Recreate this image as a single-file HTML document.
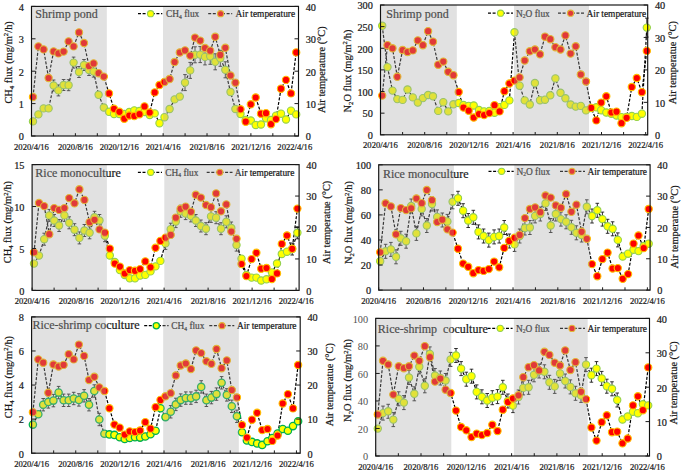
<!DOCTYPE html>
<html><head><meta charset="utf-8"><style>
html,body{margin:0;padding:0;background:#fff;width:685px;height:474px;overflow:hidden}
body{position:relative;font-family:"Liberation Serif",serif}
</style></head><body>
<svg width="685" height="474" viewBox="0 0 685 474" style="position:absolute;left:0;top:0">
<rect width="685" height="474" fill="#fff"/>
<style>text{stroke:#1a1a1a;stroke-width:0.22px}</style>
<g fill="none" stroke="#000" stroke-width="1.2" stroke-dasharray="3,1.6">
<polyline points="33,97 38.4,46.4 43.6,49.4 48.6,78 53.6,51.4 58.4,53.4 63.6,51.6 68.6,41.4 73.6,46.4 79,32.4 84,43 89,66 93.6,63.4 98.6,73.2 103.8,76.6 109,93.4 114,108.8 119.4,111.8 124.3,118.7 129.3,115.5 134.3,116 139.5,114.2 144.5,106.4 149.7,112.5 154.7,92.4 159.5,85 164.5,82 169.6,79 174.6,62 179.8,52.5 185,50.4 190.2,55.6 195,37.6 200.2,40.6 205,48 210.2,50.7 215.2,36.8 220.3,54.9 225.3,47.8 230.5,75.5 235.4,82.7 240.5,109.3 245.7,121.7 250.8,104.3 255.7,97.5 261,113.7 266,113.2 271,124.2 276,119.1 281,88.7 286,79.9 291,93.4 296.2,52.4"/>
<polyline points="33,121.4 38.4,114.4 43.6,108.4 48.6,108.4 53.6,85.5 58.4,90.4 63.6,85 68.6,85.2 73.6,62.6 79,72 84,65 89,70 93.6,71.6 98.6,94.8 103.8,107.5 109,111.8 114,114 119.4,114 124.3,114 129.3,112 134.3,110.4 139.5,111 144.5,112 149.7,115 154.7,113.4 159.5,123.2 164.5,117.2 169.6,109 174.6,99.4 179.8,96.6 185,82.6 190.2,70.4 195,54.8 200.2,54.6 205,56.9 210.2,56.3 215.2,61.8 220.3,58.3 225.3,69.8 230.5,92 235.4,109 240.5,114 245.7,120 250.8,120.5 255.7,125 261,124.5 266,118.3 271,120 276,115.7 281,113.7 286,119.5 291,110.7 296.2,114.4"/>
</g>
<g stroke="#1a1a1a" stroke-width="0.9" fill="none">
<path d="M53.6,80V91M51.8,80H55.4M51.8,91H55.4"/>
<path d="M58.4,84.9V95.9M56.6,84.9H60.2M56.6,95.9H60.2"/>
<path d="M63.6,79.5V90.5M61.8,79.5H65.4M61.8,90.5H65.4"/>
<path d="M68.6,79.7V90.7M66.8,79.7H70.4M66.8,90.7H70.4"/>
<path d="M73.6,57.1V68.1M71.8,57.1H75.4M71.8,68.1H75.4"/>
<path d="M79,66.5V77.5M77.2,66.5H80.8M77.2,77.5H80.8"/>
<path d="M84,59.5V70.5M82.2,59.5H85.8M82.2,70.5H85.8"/>
<path d="M89,64.5V75.5M87.2,64.5H90.8M87.2,75.5H90.8"/>
<path d="M93.6,66.1V77.1M91.8,66.1H95.4M91.8,77.1H95.4"/>
<path d="M185,74.6V90.6M183.2,74.6H186.8M183.2,90.6H186.8"/>
<path d="M190.2,62.4V78.4M188.4,62.4H192M188.4,78.4H192"/>
<path d="M195,46.8V62.8M193.2,46.8H196.8M193.2,62.8H196.8"/>
<path d="M200.2,46.6V62.6M198.4,46.6H202M198.4,62.6H202"/>
<path d="M205,48.9V64.9M203.2,48.9H206.8M203.2,64.9H206.8"/>
<path d="M210.2,48.3V64.3M208.4,48.3H212M208.4,64.3H212"/>
<path d="M215.2,53.8V69.8M213.4,53.8H217M213.4,69.8H217"/>
<path d="M220.3,50.3V66.3M218.5,50.3H222.1M218.5,66.3H222.1"/>
<path d="M225.3,61.8V77.8M223.5,61.8H227.1M223.5,77.8H227.1"/>
</g>
<g fill="#ffff00" stroke="#92d050" stroke-width="1.1">
<circle cx="33" cy="121.4" r="3.65"/>
<circle cx="38.4" cy="114.4" r="3.65"/>
<circle cx="43.6" cy="108.4" r="3.65"/>
<circle cx="48.6" cy="108.4" r="3.65"/>
<circle cx="53.6" cy="85.5" r="3.65"/>
<circle cx="58.4" cy="90.4" r="3.65"/>
<circle cx="63.6" cy="85" r="3.65"/>
<circle cx="68.6" cy="85.2" r="3.65"/>
<circle cx="73.6" cy="62.6" r="3.65"/>
<circle cx="79" cy="72" r="3.65"/>
<circle cx="84" cy="65" r="3.65"/>
<circle cx="89" cy="70" r="3.65"/>
<circle cx="93.6" cy="71.6" r="3.65"/>
<circle cx="98.6" cy="94.8" r="3.65"/>
<circle cx="103.8" cy="107.5" r="3.65"/>
<circle cx="109" cy="111.8" r="3.65"/>
<circle cx="114" cy="114" r="3.65"/>
<circle cx="119.4" cy="114" r="3.65"/>
<circle cx="124.3" cy="114" r="3.65"/>
<circle cx="129.3" cy="112" r="3.65"/>
<circle cx="134.3" cy="110.4" r="3.65"/>
<circle cx="139.5" cy="111" r="3.65"/>
<circle cx="144.5" cy="112" r="3.65"/>
<circle cx="149.7" cy="115" r="3.65"/>
<circle cx="154.7" cy="113.4" r="3.65"/>
<circle cx="159.5" cy="123.2" r="3.65"/>
<circle cx="164.5" cy="117.2" r="3.65"/>
<circle cx="169.6" cy="109" r="3.65"/>
<circle cx="174.6" cy="99.4" r="3.65"/>
<circle cx="179.8" cy="96.6" r="3.65"/>
<circle cx="185" cy="82.6" r="3.65"/>
<circle cx="190.2" cy="70.4" r="3.65"/>
<circle cx="195" cy="54.8" r="3.65"/>
<circle cx="200.2" cy="54.6" r="3.65"/>
<circle cx="205" cy="56.9" r="3.65"/>
<circle cx="210.2" cy="56.3" r="3.65"/>
<circle cx="215.2" cy="61.8" r="3.65"/>
<circle cx="220.3" cy="58.3" r="3.65"/>
<circle cx="225.3" cy="69.8" r="3.65"/>
<circle cx="230.5" cy="92" r="3.65"/>
<circle cx="235.4" cy="109" r="3.65"/>
<circle cx="240.5" cy="114" r="3.65"/>
<circle cx="245.7" cy="120" r="3.65"/>
<circle cx="250.8" cy="120.5" r="3.65"/>
<circle cx="255.7" cy="125" r="3.65"/>
<circle cx="261" cy="124.5" r="3.65"/>
<circle cx="266" cy="118.3" r="3.65"/>
<circle cx="271" cy="120" r="3.65"/>
<circle cx="276" cy="115.7" r="3.65"/>
<circle cx="281" cy="113.7" r="3.65"/>
<circle cx="286" cy="119.5" r="3.65"/>
<circle cx="291" cy="110.7" r="3.65"/>
<circle cx="296.2" cy="114.4" r="3.65"/>
</g>
<g fill="#ff0000" stroke="#ffc000" stroke-width="1.1">
<circle cx="33" cy="97" r="3.65"/>
<circle cx="38.4" cy="46.4" r="3.65"/>
<circle cx="43.6" cy="49.4" r="3.65"/>
<circle cx="48.6" cy="78" r="3.65"/>
<circle cx="53.6" cy="51.4" r="3.65"/>
<circle cx="58.4" cy="53.4" r="3.65"/>
<circle cx="63.6" cy="51.6" r="3.65"/>
<circle cx="68.6" cy="41.4" r="3.65"/>
<circle cx="73.6" cy="46.4" r="3.65"/>
<circle cx="79" cy="32.4" r="3.65"/>
<circle cx="84" cy="43" r="3.65"/>
<circle cx="89" cy="66" r="3.65"/>
<circle cx="93.6" cy="63.4" r="3.65"/>
<circle cx="98.6" cy="73.2" r="3.65"/>
<circle cx="103.8" cy="76.6" r="3.65"/>
<circle cx="109" cy="93.4" r="3.65"/>
<circle cx="114" cy="108.8" r="3.65"/>
<circle cx="119.4" cy="111.8" r="3.65"/>
<circle cx="124.3" cy="118.7" r="3.65"/>
<circle cx="129.3" cy="115.5" r="3.65"/>
<circle cx="134.3" cy="116" r="3.65"/>
<circle cx="139.5" cy="114.2" r="3.65"/>
<circle cx="144.5" cy="106.4" r="3.65"/>
<circle cx="149.7" cy="112.5" r="3.65"/>
<circle cx="154.7" cy="92.4" r="3.65"/>
<circle cx="159.5" cy="85" r="3.65"/>
<circle cx="164.5" cy="82" r="3.65"/>
<circle cx="169.6" cy="79" r="3.65"/>
<circle cx="174.6" cy="62" r="3.65"/>
<circle cx="179.8" cy="52.5" r="3.65"/>
<circle cx="185" cy="50.4" r="3.65"/>
<circle cx="190.2" cy="55.6" r="3.65"/>
<circle cx="195" cy="37.6" r="3.65"/>
<circle cx="200.2" cy="40.6" r="3.65"/>
<circle cx="205" cy="48" r="3.65"/>
<circle cx="210.2" cy="50.7" r="3.65"/>
<circle cx="215.2" cy="36.8" r="3.65"/>
<circle cx="220.3" cy="54.9" r="3.65"/>
<circle cx="225.3" cy="47.8" r="3.65"/>
<circle cx="230.5" cy="75.5" r="3.65"/>
<circle cx="235.4" cy="82.7" r="3.65"/>
<circle cx="240.5" cy="109.3" r="3.65"/>
<circle cx="245.7" cy="121.7" r="3.65"/>
<circle cx="250.8" cy="104.3" r="3.65"/>
<circle cx="255.7" cy="97.5" r="3.65"/>
<circle cx="261" cy="113.7" r="3.65"/>
<circle cx="266" cy="113.2" r="3.65"/>
<circle cx="271" cy="124.2" r="3.65"/>
<circle cx="276" cy="119.1" r="3.65"/>
<circle cx="281" cy="88.7" r="3.65"/>
<circle cx="286" cy="79.9" r="3.65"/>
<circle cx="291" cy="93.4" r="3.65"/>
<circle cx="296.2" cy="52.4" r="3.65"/>
</g>
<text x="35.3" y="17.6" font-family="'Liberation Serif', serif" font-size="12" fill="#1a1a1a" xml:space="preserve">Shrimp pond</text>
<line x1="138" y1="13.7" x2="162.3" y2="13.7" stroke="#000" stroke-width="1.2" stroke-dasharray="3,1.6"/>
<line x1="208.2" y1="13.7" x2="232.2" y2="13.7" stroke="#000" stroke-width="1.2" stroke-dasharray="3,1.6"/>
<circle cx="150.6" cy="13.7" r="3.1" fill="#ffff00" stroke="#92d050" stroke-width="1.1"/>
<circle cx="220.6" cy="13.7" r="3.1" fill="#ff0000" stroke="#ffc000" stroke-width="1.1"/>
<text x="166" y="17" font-family="'Liberation Serif', serif" font-size="9.4" fill="#1a1a1a">CH<tspan font-size="5.64" dy="1.5">4</tspan><tspan dy="-1.5"> flux</tspan></text>
<text x="235.5" y="17" font-family="'Liberation Serif', serif" font-size="9.4" fill="#1a1a1a">Air temperature</text>
<rect x="31.5" y="6.4" width="75.3" height="129.6" fill="#a8a8a8" fill-opacity="0.34"/>
<rect x="163" y="6.4" width="75.8" height="129.6" fill="#a8a8a8" fill-opacity="0.34"/>
<rect x="31.5" y="6.4" width="267" height="129.6" fill="none" stroke="#111" stroke-width="1.15"/>
<line x1="31.5" y1="136" x2="35.5" y2="136" stroke="#1a1a1a" stroke-width="1"/>
<text x="23.9" y="140.3" text-anchor="end" font-family="'Liberation Serif', serif" font-size="10.3" fill="#1a1a1a">0</text>
<line x1="31.5" y1="103.6" x2="35.5" y2="103.6" stroke="#1a1a1a" stroke-width="1"/>
<text x="23.9" y="107.9" text-anchor="end" font-family="'Liberation Serif', serif" font-size="10.3" fill="#1a1a1a">1</text>
<line x1="31.5" y1="71.2" x2="35.5" y2="71.2" stroke="#1a1a1a" stroke-width="1"/>
<text x="23.9" y="75.5" text-anchor="end" font-family="'Liberation Serif', serif" font-size="10.3" fill="#1a1a1a">2</text>
<line x1="31.5" y1="38.8" x2="35.5" y2="38.8" stroke="#1a1a1a" stroke-width="1"/>
<text x="23.9" y="43.1" text-anchor="end" font-family="'Liberation Serif', serif" font-size="10.3" fill="#1a1a1a">3</text>
<line x1="31.5" y1="6.4" x2="35.5" y2="6.4" stroke="#1a1a1a" stroke-width="1"/>
<text x="23.9" y="10.7" text-anchor="end" font-family="'Liberation Serif', serif" font-size="10.3" fill="#1a1a1a">4</text>
<line x1="294.5" y1="136" x2="298.5" y2="136" stroke="#1a1a1a" stroke-width="1"/>
<text x="305.7" y="140.3" font-family="'Liberation Serif', serif" font-size="10.3" fill="#1a1a1a">0</text>
<line x1="294.5" y1="103.6" x2="298.5" y2="103.6" stroke="#1a1a1a" stroke-width="1"/>
<text x="305.7" y="107.9" font-family="'Liberation Serif', serif" font-size="10.3" fill="#1a1a1a">10</text>
<line x1="294.5" y1="71.2" x2="298.5" y2="71.2" stroke="#1a1a1a" stroke-width="1"/>
<text x="305.7" y="75.5" font-family="'Liberation Serif', serif" font-size="10.3" fill="#1a1a1a">20</text>
<line x1="294.5" y1="38.8" x2="298.5" y2="38.8" stroke="#1a1a1a" stroke-width="1"/>
<text x="305.7" y="43.1" font-family="'Liberation Serif', serif" font-size="10.3" fill="#1a1a1a">30</text>
<line x1="294.5" y1="6.4" x2="298.5" y2="6.4" stroke="#1a1a1a" stroke-width="1"/>
<text x="305.7" y="10.7" font-family="'Liberation Serif', serif" font-size="10.3" fill="#1a1a1a">40</text>
<line x1="31.5" y1="136" x2="31.5" y2="133.2" stroke="#1a1a1a" stroke-width="1"/>
<text x="31.5" y="149.6" text-anchor="middle" font-family="'Liberation Serif', serif" font-size="8.6" fill="#1a1a1a">2020/4/16</text>
<line x1="53.44" y1="136" x2="53.44" y2="133.2" stroke="#1a1a1a" stroke-width="1"/>
<line x1="75.38" y1="136" x2="75.38" y2="133.2" stroke="#1a1a1a" stroke-width="1"/>
<text x="75.38" y="149.6" text-anchor="middle" font-family="'Liberation Serif', serif" font-size="8.6" fill="#1a1a1a">2020/8/16</text>
<line x1="97.32" y1="136" x2="97.32" y2="133.2" stroke="#1a1a1a" stroke-width="1"/>
<line x1="119.26" y1="136" x2="119.26" y2="133.2" stroke="#1a1a1a" stroke-width="1"/>
<text x="119.26" y="149.6" text-anchor="middle" font-family="'Liberation Serif', serif" font-size="8.6" fill="#1a1a1a">2020/12/16</text>
<line x1="141.2" y1="136" x2="141.2" y2="133.2" stroke="#1a1a1a" stroke-width="1"/>
<line x1="163.14" y1="136" x2="163.14" y2="133.2" stroke="#1a1a1a" stroke-width="1"/>
<text x="163.14" y="149.6" text-anchor="middle" font-family="'Liberation Serif', serif" font-size="8.6" fill="#1a1a1a">2021/4/16</text>
<line x1="185.08" y1="136" x2="185.08" y2="133.2" stroke="#1a1a1a" stroke-width="1"/>
<line x1="207.02" y1="136" x2="207.02" y2="133.2" stroke="#1a1a1a" stroke-width="1"/>
<text x="207.02" y="149.6" text-anchor="middle" font-family="'Liberation Serif', serif" font-size="8.6" fill="#1a1a1a">2021/8/16</text>
<line x1="228.96" y1="136" x2="228.96" y2="133.2" stroke="#1a1a1a" stroke-width="1"/>
<line x1="250.9" y1="136" x2="250.9" y2="133.2" stroke="#1a1a1a" stroke-width="1"/>
<text x="250.9" y="149.6" text-anchor="middle" font-family="'Liberation Serif', serif" font-size="8.6" fill="#1a1a1a">2021/12/16</text>
<line x1="272.84" y1="136" x2="272.84" y2="133.2" stroke="#1a1a1a" stroke-width="1"/>
<line x1="294.78" y1="136" x2="294.78" y2="133.2" stroke="#1a1a1a" stroke-width="1"/>
<text x="294.78" y="149.6" text-anchor="middle" font-family="'Liberation Serif', serif" font-size="8.6" fill="#1a1a1a">2022/4/16</text>
<text transform="translate(11.7,62.4) rotate(-90)" text-anchor="middle" font-family="'Liberation Serif', serif" font-size="10.4" fill="#1a1a1a">CH<tspan font-size="6.760000000000001" dy="2">4</tspan><tspan dy="-2"> flux (mg/m</tspan><tspan font-size="6.760000000000001" dy="-3.5">2</tspan><tspan dy="3.5">/h)</tspan></text>
<text transform="translate(325.3,69.7) rotate(-90)" text-anchor="middle" font-family="'Liberation Serif', serif" font-size="10.4" fill="#1a1a1a">Air temperature (°C)</text>
<g fill="none" stroke="#000" stroke-width="1.2" stroke-dasharray="3,1.6">
<polyline points="382.2,95.6 387.5,45.2 392.5,48.3 397.3,76.8 402.6,50 407.5,52 412.8,50.4 417.8,40.4 422.9,45.2 428.1,31.2 433,41.7 438.2,64.7 443.3,61.6 448.2,71.8 453.4,75.2 458.7,92 463.5,107.6 468.7,110.7 473.7,117.5 479,114.1 484.1,115.1 489.3,113.1 494.5,105.2 499.6,111.4 504.4,91.2 509.4,83.5 514.5,80.6 519.6,77.4 524.7,60.5 529.8,51.3 534.9,49.5 540,54.3 545,36.7 550.3,39.2 555.4,47.2 560.5,49.5 565.4,35.4 570.6,53.6 575.7,46.3 580.8,74.5 586,81.5 591.2,107.9 596.3,120.4 601.2,102.6 606.3,96.3 611.4,112.5 616.5,111.7 621.5,123.2 626.6,117.8 631.8,87 636.8,78 641.9,92.2 646.8,50.9"/>
<polyline points="382.2,25.8 387.5,67.1 392.5,90.6 397.3,99.1 402.6,99.9 407.5,89.5 412.8,97.4 417.8,102.6 422.9,98.1 428.1,95 433,96.3 438.2,110.9 443.3,102.2 448.2,111.4 453.4,104.3 458.7,103 463.5,105 468.7,105.9 473.7,105.5 479,110 484.1,111.4 489.3,111 494.5,112.7 499.6,107.2 504.4,104.9 509.4,100.4 514.5,32.3 519.6,85.7 524.7,100.4 529.8,104.5 534.9,83 540,100.2 545,99.7 550.3,95.3 555.4,78.4 560.5,92.8 565.4,98.3 570.6,104.5 575.7,106.6 580.8,105.9 586,110.4 591.2,108 596.3,107.3 601.2,110.2 606.3,112.5 611.4,113.8 616.5,115.5 621.5,117.1 626.6,117 631.8,116 636.8,116.9 641.9,113.7 646.8,27.6"/>
</g>
<g stroke="#1a1a1a" stroke-width="0.9" fill="none">
<path d="M646.8,18.1V37.1M645,18.1H648.6M645,37.1H648.6"/>
</g>
<g fill="#ffff00" stroke="#92d050" stroke-width="1.1">
<circle cx="382.2" cy="25.8" r="3.65"/>
<circle cx="387.5" cy="67.1" r="3.65"/>
<circle cx="392.5" cy="90.6" r="3.65"/>
<circle cx="397.3" cy="99.1" r="3.65"/>
<circle cx="402.6" cy="99.9" r="3.65"/>
<circle cx="407.5" cy="89.5" r="3.65"/>
<circle cx="412.8" cy="97.4" r="3.65"/>
<circle cx="417.8" cy="102.6" r="3.65"/>
<circle cx="422.9" cy="98.1" r="3.65"/>
<circle cx="428.1" cy="95" r="3.65"/>
<circle cx="433" cy="96.3" r="3.65"/>
<circle cx="438.2" cy="110.9" r="3.65"/>
<circle cx="443.3" cy="102.2" r="3.65"/>
<circle cx="448.2" cy="111.4" r="3.65"/>
<circle cx="453.4" cy="104.3" r="3.65"/>
<circle cx="458.7" cy="103" r="3.65"/>
<circle cx="463.5" cy="105" r="3.65"/>
<circle cx="468.7" cy="105.9" r="3.65"/>
<circle cx="473.7" cy="105.5" r="3.65"/>
<circle cx="479" cy="110" r="3.65"/>
<circle cx="484.1" cy="111.4" r="3.65"/>
<circle cx="489.3" cy="111" r="3.65"/>
<circle cx="494.5" cy="112.7" r="3.65"/>
<circle cx="499.6" cy="107.2" r="3.65"/>
<circle cx="504.4" cy="104.9" r="3.65"/>
<circle cx="509.4" cy="100.4" r="3.65"/>
<circle cx="514.5" cy="32.3" r="3.65"/>
<circle cx="519.6" cy="85.7" r="3.65"/>
<circle cx="524.7" cy="100.4" r="3.65"/>
<circle cx="529.8" cy="104.5" r="3.65"/>
<circle cx="534.9" cy="83" r="3.65"/>
<circle cx="540" cy="100.2" r="3.65"/>
<circle cx="545" cy="99.7" r="3.65"/>
<circle cx="550.3" cy="95.3" r="3.65"/>
<circle cx="555.4" cy="78.4" r="3.65"/>
<circle cx="560.5" cy="92.8" r="3.65"/>
<circle cx="565.4" cy="98.3" r="3.65"/>
<circle cx="570.6" cy="104.5" r="3.65"/>
<circle cx="575.7" cy="106.6" r="3.65"/>
<circle cx="580.8" cy="105.9" r="3.65"/>
<circle cx="586" cy="110.4" r="3.65"/>
<circle cx="591.2" cy="108" r="3.65"/>
<circle cx="596.3" cy="107.3" r="3.65"/>
<circle cx="601.2" cy="110.2" r="3.65"/>
<circle cx="606.3" cy="112.5" r="3.65"/>
<circle cx="611.4" cy="113.8" r="3.65"/>
<circle cx="616.5" cy="115.5" r="3.65"/>
<circle cx="621.5" cy="117.1" r="3.65"/>
<circle cx="626.6" cy="117" r="3.65"/>
<circle cx="631.8" cy="116" r="3.65"/>
<circle cx="636.8" cy="116.9" r="3.65"/>
<circle cx="641.9" cy="113.7" r="3.65"/>
<circle cx="646.8" cy="27.6" r="3.65"/>
</g>
<g fill="#ff0000" stroke="#ffc000" stroke-width="1.1">
<circle cx="382.2" cy="95.6" r="3.65"/>
<circle cx="387.5" cy="45.2" r="3.65"/>
<circle cx="392.5" cy="48.3" r="3.65"/>
<circle cx="397.3" cy="76.8" r="3.65"/>
<circle cx="402.6" cy="50" r="3.65"/>
<circle cx="407.5" cy="52" r="3.65"/>
<circle cx="412.8" cy="50.4" r="3.65"/>
<circle cx="417.8" cy="40.4" r="3.65"/>
<circle cx="422.9" cy="45.2" r="3.65"/>
<circle cx="428.1" cy="31.2" r="3.65"/>
<circle cx="433" cy="41.7" r="3.65"/>
<circle cx="438.2" cy="64.7" r="3.65"/>
<circle cx="443.3" cy="61.6" r="3.65"/>
<circle cx="448.2" cy="71.8" r="3.65"/>
<circle cx="453.4" cy="75.2" r="3.65"/>
<circle cx="458.7" cy="92" r="3.65"/>
<circle cx="463.5" cy="107.6" r="3.65"/>
<circle cx="468.7" cy="110.7" r="3.65"/>
<circle cx="473.7" cy="117.5" r="3.65"/>
<circle cx="479" cy="114.1" r="3.65"/>
<circle cx="484.1" cy="115.1" r="3.65"/>
<circle cx="489.3" cy="113.1" r="3.65"/>
<circle cx="494.5" cy="105.2" r="3.65"/>
<circle cx="499.6" cy="111.4" r="3.65"/>
<circle cx="504.4" cy="91.2" r="3.65"/>
<circle cx="509.4" cy="83.5" r="3.65"/>
<circle cx="514.5" cy="80.6" r="3.65"/>
<circle cx="519.6" cy="77.4" r="3.65"/>
<circle cx="524.7" cy="60.5" r="3.65"/>
<circle cx="529.8" cy="51.3" r="3.65"/>
<circle cx="534.9" cy="49.5" r="3.65"/>
<circle cx="540" cy="54.3" r="3.65"/>
<circle cx="545" cy="36.7" r="3.65"/>
<circle cx="550.3" cy="39.2" r="3.65"/>
<circle cx="555.4" cy="47.2" r="3.65"/>
<circle cx="560.5" cy="49.5" r="3.65"/>
<circle cx="565.4" cy="35.4" r="3.65"/>
<circle cx="570.6" cy="53.6" r="3.65"/>
<circle cx="575.7" cy="46.3" r="3.65"/>
<circle cx="580.8" cy="74.5" r="3.65"/>
<circle cx="586" cy="81.5" r="3.65"/>
<circle cx="591.2" cy="107.9" r="3.65"/>
<circle cx="596.3" cy="120.4" r="3.65"/>
<circle cx="601.2" cy="102.6" r="3.65"/>
<circle cx="606.3" cy="96.3" r="3.65"/>
<circle cx="611.4" cy="112.5" r="3.65"/>
<circle cx="616.5" cy="111.7" r="3.65"/>
<circle cx="621.5" cy="123.2" r="3.65"/>
<circle cx="626.6" cy="117.8" r="3.65"/>
<circle cx="631.8" cy="87" r="3.65"/>
<circle cx="636.8" cy="78" r="3.65"/>
<circle cx="641.9" cy="92.2" r="3.65"/>
<circle cx="646.8" cy="50.9" r="3.65"/>
</g>
<text x="386.3" y="18.4" font-family="'Liberation Serif', serif" font-size="12" fill="#1a1a1a" xml:space="preserve">Shrimp pond</text>
<line x1="488" y1="13.2" x2="513" y2="13.2" stroke="#000" stroke-width="1.2" stroke-dasharray="3,1.6"/>
<line x1="558" y1="13.2" x2="585" y2="13.2" stroke="#000" stroke-width="1.2" stroke-dasharray="3,1.6"/>
<circle cx="500.6" cy="13.2" r="3.1" fill="#ffff00" stroke="#92d050" stroke-width="1.1"/>
<circle cx="570.6" cy="13.2" r="3.1" fill="#ff0000" stroke="#ffc000" stroke-width="1.1"/>
<text x="516" y="16.5" font-family="'Liberation Serif', serif" font-size="9.4" fill="#1a1a1a">N<tspan font-size="5.64" dy="1.5">2</tspan><tspan dy="-1.5">O flux</tspan></text>
<text x="586.5" y="16.5" font-family="'Liberation Serif', serif" font-size="9.4" fill="#1a1a1a">Air temperature</text>
<rect x="380.5" y="5" width="76.3" height="129.8" fill="#a8a8a8" fill-opacity="0.34"/>
<rect x="514" y="5" width="75" height="129.8" fill="#a8a8a8" fill-opacity="0.34"/>
<rect x="380.5" y="5" width="267.2" height="129.8" fill="none" stroke="#111" stroke-width="1.15"/>
<line x1="380.5" y1="134.8" x2="384.5" y2="134.8" stroke="#1a1a1a" stroke-width="1"/>
<text x="372.9" y="139.1" text-anchor="end" font-family="'Liberation Serif', serif" font-size="10.3" fill="#1a1a1a">0</text>
<line x1="380.5" y1="113.17" x2="384.5" y2="113.17" stroke="#1a1a1a" stroke-width="1"/>
<text x="372.9" y="117.47" text-anchor="end" font-family="'Liberation Serif', serif" font-size="10.3" fill="#1a1a1a">50</text>
<line x1="380.5" y1="91.53" x2="384.5" y2="91.53" stroke="#1a1a1a" stroke-width="1"/>
<text x="372.9" y="95.83" text-anchor="end" font-family="'Liberation Serif', serif" font-size="10.3" fill="#1a1a1a">100</text>
<line x1="380.5" y1="69.9" x2="384.5" y2="69.9" stroke="#1a1a1a" stroke-width="1"/>
<text x="372.9" y="74.2" text-anchor="end" font-family="'Liberation Serif', serif" font-size="10.3" fill="#1a1a1a">150</text>
<line x1="380.5" y1="48.27" x2="384.5" y2="48.27" stroke="#1a1a1a" stroke-width="1"/>
<text x="372.9" y="52.57" text-anchor="end" font-family="'Liberation Serif', serif" font-size="10.3" fill="#1a1a1a">200</text>
<line x1="380.5" y1="26.63" x2="384.5" y2="26.63" stroke="#1a1a1a" stroke-width="1"/>
<text x="372.9" y="30.93" text-anchor="end" font-family="'Liberation Serif', serif" font-size="10.3" fill="#1a1a1a">250</text>
<line x1="380.5" y1="5" x2="384.5" y2="5" stroke="#1a1a1a" stroke-width="1"/>
<text x="372.9" y="9.3" text-anchor="end" font-family="'Liberation Serif', serif" font-size="10.3" fill="#1a1a1a">300</text>
<line x1="643.7" y1="134.8" x2="647.7" y2="134.8" stroke="#1a1a1a" stroke-width="1"/>
<text x="654.9" y="139.1" font-family="'Liberation Serif', serif" font-size="10.3" fill="#1a1a1a">0</text>
<line x1="643.7" y1="102.35" x2="647.7" y2="102.35" stroke="#1a1a1a" stroke-width="1"/>
<text x="654.9" y="106.65" font-family="'Liberation Serif', serif" font-size="10.3" fill="#1a1a1a">10</text>
<line x1="643.7" y1="69.9" x2="647.7" y2="69.9" stroke="#1a1a1a" stroke-width="1"/>
<text x="654.9" y="74.2" font-family="'Liberation Serif', serif" font-size="10.3" fill="#1a1a1a">20</text>
<line x1="643.7" y1="37.45" x2="647.7" y2="37.45" stroke="#1a1a1a" stroke-width="1"/>
<text x="654.9" y="41.75" font-family="'Liberation Serif', serif" font-size="10.3" fill="#1a1a1a">30</text>
<line x1="643.7" y1="5" x2="647.7" y2="5" stroke="#1a1a1a" stroke-width="1"/>
<text x="654.9" y="9.3" font-family="'Liberation Serif', serif" font-size="10.3" fill="#1a1a1a">40</text>
<line x1="380.5" y1="134.8" x2="380.5" y2="132" stroke="#1a1a1a" stroke-width="1"/>
<text x="380.5" y="148.4" text-anchor="middle" font-family="'Liberation Serif', serif" font-size="8.6" fill="#1a1a1a">2020/4/16</text>
<line x1="402.6" y1="134.8" x2="402.6" y2="132" stroke="#1a1a1a" stroke-width="1"/>
<line x1="424.7" y1="134.8" x2="424.7" y2="132" stroke="#1a1a1a" stroke-width="1"/>
<text x="424.7" y="148.4" text-anchor="middle" font-family="'Liberation Serif', serif" font-size="8.6" fill="#1a1a1a">2020/8/16</text>
<line x1="446.8" y1="134.8" x2="446.8" y2="132" stroke="#1a1a1a" stroke-width="1"/>
<line x1="468.9" y1="134.8" x2="468.9" y2="132" stroke="#1a1a1a" stroke-width="1"/>
<text x="468.9" y="148.4" text-anchor="middle" font-family="'Liberation Serif', serif" font-size="8.6" fill="#1a1a1a">2020/12/16</text>
<line x1="491" y1="134.8" x2="491" y2="132" stroke="#1a1a1a" stroke-width="1"/>
<line x1="513.1" y1="134.8" x2="513.1" y2="132" stroke="#1a1a1a" stroke-width="1"/>
<text x="513.1" y="148.4" text-anchor="middle" font-family="'Liberation Serif', serif" font-size="8.6" fill="#1a1a1a">2021/4/16</text>
<line x1="535.2" y1="134.8" x2="535.2" y2="132" stroke="#1a1a1a" stroke-width="1"/>
<line x1="557.3" y1="134.8" x2="557.3" y2="132" stroke="#1a1a1a" stroke-width="1"/>
<text x="557.3" y="148.4" text-anchor="middle" font-family="'Liberation Serif', serif" font-size="8.6" fill="#1a1a1a">2021/8/16</text>
<line x1="579.4" y1="134.8" x2="579.4" y2="132" stroke="#1a1a1a" stroke-width="1"/>
<line x1="601.5" y1="134.8" x2="601.5" y2="132" stroke="#1a1a1a" stroke-width="1"/>
<text x="601.5" y="148.4" text-anchor="middle" font-family="'Liberation Serif', serif" font-size="8.6" fill="#1a1a1a">2021/12/16</text>
<line x1="623.6" y1="134.8" x2="623.6" y2="132" stroke="#1a1a1a" stroke-width="1"/>
<line x1="645.7" y1="134.8" x2="645.7" y2="132" stroke="#1a1a1a" stroke-width="1"/>
<text x="645.7" y="148.4" text-anchor="middle" font-family="'Liberation Serif', serif" font-size="8.6" fill="#1a1a1a">2022/4/16</text>
<text transform="translate(350.6,71) rotate(-90)" text-anchor="middle" font-family="'Liberation Serif', serif" font-size="10.4" fill="#1a1a1a">N<tspan font-size="6.760000000000001" dy="2">2</tspan><tspan dy="-2">O flux (mg/m</tspan><tspan font-size="6.760000000000001" dy="-3.5">2</tspan><tspan dy="3.5">/h)</tspan></text>
<text transform="translate(675.8,62.6) rotate(-90)" text-anchor="middle" font-family="'Liberation Serif', serif" font-size="10.4" fill="#1a1a1a">Air temperatue (°C)</text>
<g fill="none" stroke="#000" stroke-width="1.2" stroke-dasharray="3,1.6">
<polyline points="34,252.4 39,203 44.2,206.1 49.3,234.2 54.2,208.1 59.1,209.9 64.4,208.1 69.2,198.1 74.5,203.3 79.4,189.3 84.4,199.9 89.6,222.2 94.5,219.8 99.5,229.4 104.8,232.7 109.8,248.7 114.8,263.6 119.9,266.6 124.7,273.5 129.7,270.1 135,270.8 140.1,269.1 145.3,261.4 150.5,267.3 155.5,247.8 160.4,240.9 165.5,237.7 170.7,234.9 175.8,217.7 180.6,208.8 185.6,206.7 190.9,211.8 195.8,194.8 200.9,197.6 206,205 211,207.2 216.1,193.4 221,211.3 226.3,204.4 231.3,231.6 236.5,238.8 241.5,264 246.4,276.1 251.6,259.1 256.4,252.8 261.2,268.7 266.5,268 271.9,279 277,273.4 281.8,243.9 287,235.5 292.2,248.8 297.4,208.6"/>
<polyline points="34,263.6 39,255.6 44.2,239.2 49.3,215.4 54.2,220.5 59.1,225.5 64.4,215.4 69.2,222.8 74.5,229.7 79.4,237.9 84.4,230.5 89.6,232.8 94.5,217.3 99.5,220.5 104.8,235.7 109.8,255.5 114.8,262 119.9,270.1 124.7,275 129.7,278.3 135,278.3 140.1,275.6 145.3,274.9 150.5,271.4 155.5,266.4 160.4,260.9 165.5,243.4 170.7,229.2 175.8,221.6 180.6,211.3 185.6,213.6 190.9,215.9 195.8,220.5 200.9,226 206,228.7 211,216.4 216.1,217.7 221,228.7 226.3,221.8 231.3,228 236.5,245.1 241.5,258.7 246.4,275 251.6,277.6 256.4,277.6 261.2,280.5 266.5,279.3 271.9,272.4 277,263.5 281.8,254 287,251.7 292.2,249 297.4,232.8"/>
</g>
<g stroke="#1a1a1a" stroke-width="0.9" fill="none">
<path d="M44.2,233.2V245.2M42.4,233.2H46M42.4,245.2H46"/>
<path d="M49.3,209.4V221.4M47.5,209.4H51.1M47.5,221.4H51.1"/>
<path d="M54.2,214.5V226.5M52.4,214.5H56M52.4,226.5H56"/>
<path d="M59.1,219.5V231.5M57.3,219.5H60.9M57.3,231.5H60.9"/>
<path d="M64.4,209.4V221.4M62.6,209.4H66.2M62.6,221.4H66.2"/>
<path d="M69.2,216.8V228.8M67.4,216.8H71M67.4,228.8H71"/>
<path d="M74.5,223.7V235.7M72.7,223.7H76.3M72.7,235.7H76.3"/>
<path d="M79.4,231.9V243.9M77.6,231.9H81.2M77.6,243.9H81.2"/>
<path d="M84.4,224.5V236.5M82.6,224.5H86.2M82.6,236.5H86.2"/>
<path d="M89.6,226.8V238.8M87.8,226.8H91.4M87.8,238.8H91.4"/>
<path d="M94.5,211.3V223.3M92.7,211.3H96.3M92.7,223.3H96.3"/>
<path d="M99.5,214.5V226.5M97.7,214.5H101.3M97.7,226.5H101.3"/>
<path d="M104.8,229.7V241.7M103,229.7H106.6M103,241.7H106.6"/>
<path d="M165.5,237.4V249.4M163.7,237.4H167.3M163.7,249.4H167.3"/>
<path d="M170.7,223.2V235.2M168.9,223.2H172.5M168.9,235.2H172.5"/>
<path d="M175.8,215.6V227.6M174,215.6H177.6M174,227.6H177.6"/>
<path d="M180.6,205.3V217.3M178.8,205.3H182.4M178.8,217.3H182.4"/>
<path d="M185.6,207.6V219.6M183.8,207.6H187.4M183.8,219.6H187.4"/>
<path d="M190.9,209.9V221.9M189.1,209.9H192.7M189.1,221.9H192.7"/>
<path d="M195.8,214.5V226.5M194,214.5H197.6M194,226.5H197.6"/>
<path d="M200.9,220V232M199.1,220H202.7M199.1,232H202.7"/>
<path d="M206,222.7V234.7M204.2,222.7H207.8M204.2,234.7H207.8"/>
<path d="M211,210.4V222.4M209.2,210.4H212.8M209.2,222.4H212.8"/>
<path d="M216.1,211.7V223.7M214.3,211.7H217.9M214.3,223.7H217.9"/>
<path d="M221,222.7V234.7M219.2,222.7H222.8M219.2,234.7H222.8"/>
<path d="M226.3,215.8V227.8M224.5,215.8H228.1M224.5,227.8H228.1"/>
<path d="M231.3,222V234M229.5,222H233.1M229.5,234H233.1"/>
<path d="M236.5,239.1V251.1M234.7,239.1H238.3M234.7,251.1H238.3"/>
<path d="M292.2,243V255M290.4,243H294M290.4,255H294"/>
<path d="M297.4,226.8V238.8M295.6,226.8H299.2M295.6,238.8H299.2"/>
</g>
<g fill="#ffff00" stroke="#92d050" stroke-width="1.1">
<circle cx="34" cy="263.6" r="3.65"/>
<circle cx="39" cy="255.6" r="3.65"/>
<circle cx="44.2" cy="239.2" r="3.65"/>
<circle cx="49.3" cy="215.4" r="3.65"/>
<circle cx="54.2" cy="220.5" r="3.65"/>
<circle cx="59.1" cy="225.5" r="3.65"/>
<circle cx="64.4" cy="215.4" r="3.65"/>
<circle cx="69.2" cy="222.8" r="3.65"/>
<circle cx="74.5" cy="229.7" r="3.65"/>
<circle cx="79.4" cy="237.9" r="3.65"/>
<circle cx="84.4" cy="230.5" r="3.65"/>
<circle cx="89.6" cy="232.8" r="3.65"/>
<circle cx="94.5" cy="217.3" r="3.65"/>
<circle cx="99.5" cy="220.5" r="3.65"/>
<circle cx="104.8" cy="235.7" r="3.65"/>
<circle cx="109.8" cy="255.5" r="3.65"/>
<circle cx="114.8" cy="262" r="3.65"/>
<circle cx="119.9" cy="270.1" r="3.65"/>
<circle cx="124.7" cy="275" r="3.65"/>
<circle cx="129.7" cy="278.3" r="3.65"/>
<circle cx="135" cy="278.3" r="3.65"/>
<circle cx="140.1" cy="275.6" r="3.65"/>
<circle cx="145.3" cy="274.9" r="3.65"/>
<circle cx="150.5" cy="271.4" r="3.65"/>
<circle cx="155.5" cy="266.4" r="3.65"/>
<circle cx="160.4" cy="260.9" r="3.65"/>
<circle cx="165.5" cy="243.4" r="3.65"/>
<circle cx="170.7" cy="229.2" r="3.65"/>
<circle cx="175.8" cy="221.6" r="3.65"/>
<circle cx="180.6" cy="211.3" r="3.65"/>
<circle cx="185.6" cy="213.6" r="3.65"/>
<circle cx="190.9" cy="215.9" r="3.65"/>
<circle cx="195.8" cy="220.5" r="3.65"/>
<circle cx="200.9" cy="226" r="3.65"/>
<circle cx="206" cy="228.7" r="3.65"/>
<circle cx="211" cy="216.4" r="3.65"/>
<circle cx="216.1" cy="217.7" r="3.65"/>
<circle cx="221" cy="228.7" r="3.65"/>
<circle cx="226.3" cy="221.8" r="3.65"/>
<circle cx="231.3" cy="228" r="3.65"/>
<circle cx="236.5" cy="245.1" r="3.65"/>
<circle cx="241.5" cy="258.7" r="3.65"/>
<circle cx="246.4" cy="275" r="3.65"/>
<circle cx="251.6" cy="277.6" r="3.65"/>
<circle cx="256.4" cy="277.6" r="3.65"/>
<circle cx="261.2" cy="280.5" r="3.65"/>
<circle cx="266.5" cy="279.3" r="3.65"/>
<circle cx="271.9" cy="272.4" r="3.65"/>
<circle cx="277" cy="263.5" r="3.65"/>
<circle cx="281.8" cy="254" r="3.65"/>
<circle cx="287" cy="251.7" r="3.65"/>
<circle cx="292.2" cy="249" r="3.65"/>
<circle cx="297.4" cy="232.8" r="3.65"/>
</g>
<g fill="#ff0000" stroke="#ffc000" stroke-width="1.1">
<circle cx="34" cy="252.4" r="3.65"/>
<circle cx="39" cy="203" r="3.65"/>
<circle cx="44.2" cy="206.1" r="3.65"/>
<circle cx="49.3" cy="234.2" r="3.65"/>
<circle cx="54.2" cy="208.1" r="3.65"/>
<circle cx="59.1" cy="209.9" r="3.65"/>
<circle cx="64.4" cy="208.1" r="3.65"/>
<circle cx="69.2" cy="198.1" r="3.65"/>
<circle cx="74.5" cy="203.3" r="3.65"/>
<circle cx="79.4" cy="189.3" r="3.65"/>
<circle cx="84.4" cy="199.9" r="3.65"/>
<circle cx="89.6" cy="222.2" r="3.65"/>
<circle cx="94.5" cy="219.8" r="3.65"/>
<circle cx="99.5" cy="229.4" r="3.65"/>
<circle cx="104.8" cy="232.7" r="3.65"/>
<circle cx="109.8" cy="248.7" r="3.65"/>
<circle cx="114.8" cy="263.6" r="3.65"/>
<circle cx="119.9" cy="266.6" r="3.65"/>
<circle cx="124.7" cy="273.5" r="3.65"/>
<circle cx="129.7" cy="270.1" r="3.65"/>
<circle cx="135" cy="270.8" r="3.65"/>
<circle cx="140.1" cy="269.1" r="3.65"/>
<circle cx="145.3" cy="261.4" r="3.65"/>
<circle cx="150.5" cy="267.3" r="3.65"/>
<circle cx="155.5" cy="247.8" r="3.65"/>
<circle cx="160.4" cy="240.9" r="3.65"/>
<circle cx="165.5" cy="237.7" r="3.65"/>
<circle cx="170.7" cy="234.9" r="3.65"/>
<circle cx="175.8" cy="217.7" r="3.65"/>
<circle cx="180.6" cy="208.8" r="3.65"/>
<circle cx="185.6" cy="206.7" r="3.65"/>
<circle cx="190.9" cy="211.8" r="3.65"/>
<circle cx="195.8" cy="194.8" r="3.65"/>
<circle cx="200.9" cy="197.6" r="3.65"/>
<circle cx="206" cy="205" r="3.65"/>
<circle cx="211" cy="207.2" r="3.65"/>
<circle cx="216.1" cy="193.4" r="3.65"/>
<circle cx="221" cy="211.3" r="3.65"/>
<circle cx="226.3" cy="204.4" r="3.65"/>
<circle cx="231.3" cy="231.6" r="3.65"/>
<circle cx="236.5" cy="238.8" r="3.65"/>
<circle cx="241.5" cy="264" r="3.65"/>
<circle cx="246.4" cy="276.1" r="3.65"/>
<circle cx="251.6" cy="259.1" r="3.65"/>
<circle cx="256.4" cy="252.8" r="3.65"/>
<circle cx="261.2" cy="268.7" r="3.65"/>
<circle cx="266.5" cy="268" r="3.65"/>
<circle cx="271.9" cy="279" r="3.65"/>
<circle cx="277" cy="273.4" r="3.65"/>
<circle cx="281.8" cy="243.9" r="3.65"/>
<circle cx="287" cy="235.5" r="3.65"/>
<circle cx="292.2" cy="248.8" r="3.65"/>
<circle cx="297.4" cy="208.6" r="3.65"/>
</g>
<text x="35.3" y="177" font-family="'Liberation Serif', serif" font-size="12" fill="#1a1a1a" xml:space="preserve">Rice monoculture</text>
<line x1="137.9" y1="172.3" x2="162" y2="172.3" stroke="#000" stroke-width="1.2" stroke-dasharray="3,1.6"/>
<line x1="206.7" y1="172.3" x2="232.5" y2="172.3" stroke="#000" stroke-width="1.2" stroke-dasharray="3,1.6"/>
<circle cx="150.7" cy="172.3" r="3.1" fill="#ffff00" stroke="#92d050" stroke-width="1.1"/>
<circle cx="219.8" cy="172.3" r="3.1" fill="#ff0000" stroke="#ffc000" stroke-width="1.1"/>
<text x="165.2" y="175.6" font-family="'Liberation Serif', serif" font-size="9.4" fill="#1a1a1a">CH<tspan font-size="5.64" dy="1.5">4</tspan><tspan dy="-1.5"> flux</tspan></text>
<text x="234.8" y="175.6" font-family="'Liberation Serif', serif" font-size="9.4" fill="#1a1a1a">Air temperature</text>
<rect x="32" y="164.6" width="74.9" height="125.8" fill="#a8a8a8" fill-opacity="0.34"/>
<rect x="164.3" y="164.6" width="75.5" height="125.8" fill="#a8a8a8" fill-opacity="0.34"/>
<rect x="32.1" y="164.6" width="267" height="125.8" fill="none" stroke="#111" stroke-width="1.15"/>
<line x1="32.1" y1="290.4" x2="36.1" y2="290.4" stroke="#1a1a1a" stroke-width="1"/>
<text x="24.5" y="294.7" text-anchor="end" font-family="'Liberation Serif', serif" font-size="10.3" fill="#1a1a1a">0</text>
<line x1="32.1" y1="248.47" x2="36.1" y2="248.47" stroke="#1a1a1a" stroke-width="1"/>
<text x="24.5" y="252.77" text-anchor="end" font-family="'Liberation Serif', serif" font-size="10.3" fill="#1a1a1a">5</text>
<line x1="32.1" y1="206.53" x2="36.1" y2="206.53" stroke="#1a1a1a" stroke-width="1"/>
<text x="24.5" y="210.83" text-anchor="end" font-family="'Liberation Serif', serif" font-size="10.3" fill="#1a1a1a">10</text>
<line x1="32.1" y1="164.6" x2="36.1" y2="164.6" stroke="#1a1a1a" stroke-width="1"/>
<text x="24.5" y="168.9" text-anchor="end" font-family="'Liberation Serif', serif" font-size="10.3" fill="#1a1a1a">15</text>
<line x1="295.1" y1="290.4" x2="299.1" y2="290.4" stroke="#1a1a1a" stroke-width="1"/>
<text x="306.3" y="294.7" font-family="'Liberation Serif', serif" font-size="10.3" fill="#1a1a1a">0</text>
<line x1="295.1" y1="258.95" x2="299.1" y2="258.95" stroke="#1a1a1a" stroke-width="1"/>
<text x="306.3" y="263.25" font-family="'Liberation Serif', serif" font-size="10.3" fill="#1a1a1a">10</text>
<line x1="295.1" y1="227.5" x2="299.1" y2="227.5" stroke="#1a1a1a" stroke-width="1"/>
<text x="306.3" y="231.8" font-family="'Liberation Serif', serif" font-size="10.3" fill="#1a1a1a">20</text>
<line x1="295.1" y1="196.05" x2="299.1" y2="196.05" stroke="#1a1a1a" stroke-width="1"/>
<text x="306.3" y="200.35" font-family="'Liberation Serif', serif" font-size="10.3" fill="#1a1a1a">30</text>
<line x1="295.1" y1="164.6" x2="299.1" y2="164.6" stroke="#1a1a1a" stroke-width="1"/>
<text x="306.3" y="168.9" font-family="'Liberation Serif', serif" font-size="10.3" fill="#1a1a1a">40</text>
<line x1="32.1" y1="290.4" x2="32.1" y2="287.6" stroke="#1a1a1a" stroke-width="1"/>
<text x="32.1" y="304" text-anchor="middle" font-family="'Liberation Serif', serif" font-size="8.6" fill="#1a1a1a">2020/4/16</text>
<line x1="54.1" y1="290.4" x2="54.1" y2="287.6" stroke="#1a1a1a" stroke-width="1"/>
<line x1="76.1" y1="290.4" x2="76.1" y2="287.6" stroke="#1a1a1a" stroke-width="1"/>
<text x="76.1" y="304" text-anchor="middle" font-family="'Liberation Serif', serif" font-size="8.6" fill="#1a1a1a">2020/8/16</text>
<line x1="98.1" y1="290.4" x2="98.1" y2="287.6" stroke="#1a1a1a" stroke-width="1"/>
<line x1="120.1" y1="290.4" x2="120.1" y2="287.6" stroke="#1a1a1a" stroke-width="1"/>
<text x="120.1" y="304" text-anchor="middle" font-family="'Liberation Serif', serif" font-size="8.6" fill="#1a1a1a">2020/12/16</text>
<line x1="142.1" y1="290.4" x2="142.1" y2="287.6" stroke="#1a1a1a" stroke-width="1"/>
<line x1="164.1" y1="290.4" x2="164.1" y2="287.6" stroke="#1a1a1a" stroke-width="1"/>
<text x="164.1" y="304" text-anchor="middle" font-family="'Liberation Serif', serif" font-size="8.6" fill="#1a1a1a">2021/4/16</text>
<line x1="186.1" y1="290.4" x2="186.1" y2="287.6" stroke="#1a1a1a" stroke-width="1"/>
<line x1="208.1" y1="290.4" x2="208.1" y2="287.6" stroke="#1a1a1a" stroke-width="1"/>
<text x="208.1" y="304" text-anchor="middle" font-family="'Liberation Serif', serif" font-size="8.6" fill="#1a1a1a">2021/8/16</text>
<line x1="230.1" y1="290.4" x2="230.1" y2="287.6" stroke="#1a1a1a" stroke-width="1"/>
<line x1="252.1" y1="290.4" x2="252.1" y2="287.6" stroke="#1a1a1a" stroke-width="1"/>
<text x="252.1" y="304" text-anchor="middle" font-family="'Liberation Serif', serif" font-size="8.6" fill="#1a1a1a">2021/12/16</text>
<line x1="274.1" y1="290.4" x2="274.1" y2="287.6" stroke="#1a1a1a" stroke-width="1"/>
<line x1="296.1" y1="290.4" x2="296.1" y2="287.6" stroke="#1a1a1a" stroke-width="1"/>
<text x="296.1" y="304" text-anchor="middle" font-family="'Liberation Serif', serif" font-size="8.6" fill="#1a1a1a">2022/4/16</text>
<text transform="translate(11.1,222.1) rotate(-90)" text-anchor="middle" font-family="'Liberation Serif', serif" font-size="10.4" fill="#1a1a1a">CH<tspan font-size="6.760000000000001" dy="2">4</tspan><tspan dy="-2"> flux (mg/m</tspan><tspan font-size="6.760000000000001" dy="-3.5">2</tspan><tspan dy="3.5">/h)</tspan></text>
<text transform="translate(330.2,222.3) rotate(-90)" text-anchor="middle" font-family="'Liberation Serif', serif" font-size="10.4" fill="#1a1a1a">Air temperatue (°C)</text>
<g fill="none" stroke="#000" stroke-width="1.2" stroke-dasharray="3,1.6">
<polyline points="380.2,252.3 385.6,203.3 390.9,206.4 396,234.3 400.8,208.1 406.1,210.1 411.2,208.3 416.4,198.5 421.7,203.2 426.8,190 432,200.2 437.2,222 442.3,219.7 447.4,229.3 452.6,232.6 458,248.7 463.1,263.6 468.2,266.8 473.3,273.2 478.5,270.1 483.6,270.9 488.8,269.1 494.1,261.6 499.2,267.3 504.2,247.9 509.3,240.9 514.6,237.8 519.7,234.9 524.9,218.1 529.9,209 535.1,207.4 540.3,212.2 545.5,195.5 550.7,197.6 555.8,205.4 560.9,207.7 566.1,194 571.4,211.8 576.4,204.7 581.6,231.8 586.8,238.8 592,264.1 597.3,276.2 602.4,259.1 607.6,252.7 612.6,268.5 617.8,268.1 622.7,278.8 628.1,274.1 633.5,243.7 638.5,235.5 643.7,248.1 648.7,209"/>
<polyline points="380.2,261.2 385.6,251.3 390.9,249.4 396,256.8 400.8,238.3 406.1,241.2 411.2,206 416.4,233.4 421.7,208.9 426.8,225.5 432,204 437.2,216.9 442.3,220 447.4,221.4 452.6,201.8 458,198.3 463.1,210.7 468.2,220.5 473.3,217.3 478.5,231.9 483.6,236 488.8,240.1 494.1,236.9 499.2,236 504.2,227.5 509.3,241 514.6,244.4 519.7,236 524.9,228 529.9,227.5 535.1,215.9 540.3,214 545.5,203.4 550.7,225.5 555.8,214 560.9,219.1 566.1,221.8 571.4,227.3 576.4,232.8 581.6,235 586.8,206.8 592,216 597.3,210.3 602.4,219.1 607.6,226.3 612.6,228.8 617.8,239.9 622.7,256.5 628.1,253.7 633.5,249.7 638.5,251.1 643.7,246 648.7,243.7"/>
</g>
<g stroke="#1a1a1a" stroke-width="0.9" fill="none">
<path d="M385.6,244.3V258.3M383.8,244.3H387.4M383.8,258.3H387.4"/>
<path d="M390.9,242.4V256.4M389.1,242.4H392.7M389.1,256.4H392.7"/>
<path d="M396,249.8V263.8M394.2,249.8H397.8M394.2,263.8H397.8"/>
<path d="M400.8,231.3V245.3M399,231.3H402.6M399,245.3H402.6"/>
<path d="M406.1,234.2V248.2M404.3,234.2H407.9M404.3,248.2H407.9"/>
<path d="M411.2,199V213M409.4,199H413M409.4,213H413"/>
<path d="M416.4,226.4V240.4M414.6,226.4H418.2M414.6,240.4H418.2"/>
<path d="M421.7,201.9V215.9M419.9,201.9H423.5M419.9,215.9H423.5"/>
<path d="M426.8,218.5V232.5M425,218.5H428.6M425,232.5H428.6"/>
<path d="M432,197V211M430.2,197H433.8M430.2,211H433.8"/>
<path d="M437.2,209.9V223.9M435.4,209.9H439M435.4,223.9H439"/>
<path d="M442.3,213V227M440.5,213H444.1M440.5,227H444.1"/>
<path d="M447.4,214.4V228.4M445.6,214.4H449.2M445.6,228.4H449.2"/>
<path d="M452.6,194.8V208.8M450.8,194.8H454.4M450.8,208.8H454.4"/>
<path d="M458,191.3V205.3M456.2,191.3H459.8M456.2,205.3H459.8"/>
<path d="M463.1,203.7V217.7M461.3,203.7H464.9M461.3,217.7H464.9"/>
<path d="M468.2,213.5V227.5M466.4,213.5H470M466.4,227.5H470"/>
<path d="M473.3,210.3V224.3M471.5,210.3H475.1M471.5,224.3H475.1"/>
<path d="M478.5,224.9V238.9M476.7,224.9H480.3M476.7,238.9H480.3"/>
<path d="M483.6,229V243M481.8,229H485.4M481.8,243H485.4"/>
<path d="M488.8,233.1V247.1M487,233.1H490.6M487,247.1H490.6"/>
<path d="M494.1,229.9V243.9M492.3,229.9H495.9M492.3,243.9H495.9"/>
<path d="M499.2,229V243M497.4,229H501M497.4,243H501"/>
<path d="M504.2,220.5V234.5M502.4,220.5H506M502.4,234.5H506"/>
<path d="M509.3,234V248M507.5,234H511.1M507.5,248H511.1"/>
<path d="M514.6,237.4V251.4M512.8,237.4H516.4M512.8,251.4H516.4"/>
<path d="M519.7,229V243M517.9,229H521.5M517.9,243H521.5"/>
<path d="M524.9,221V235M523.1,221H526.7M523.1,235H526.7"/>
<path d="M529.9,220.5V234.5M528.1,220.5H531.7M528.1,234.5H531.7"/>
<path d="M535.1,208.9V222.9M533.3,208.9H536.9M533.3,222.9H536.9"/>
<path d="M540.3,207V221M538.5,207H542.1M538.5,221H542.1"/>
<path d="M545.5,196.4V210.4M543.7,196.4H547.3M543.7,210.4H547.3"/>
<path d="M550.7,218.5V232.5M548.9,218.5H552.5M548.9,232.5H552.5"/>
<path d="M555.8,207V221M554,207H557.6M554,221H557.6"/>
<path d="M560.9,212.1V226.1M559.1,212.1H562.7M559.1,226.1H562.7"/>
<path d="M566.1,214.8V228.8M564.3,214.8H567.9M564.3,228.8H567.9"/>
<path d="M571.4,220.3V234.3M569.6,220.3H573.2M569.6,234.3H573.2"/>
<path d="M576.4,225.8V239.8M574.6,225.8H578.2M574.6,239.8H578.2"/>
<path d="M581.6,228V242M579.8,228H583.4M579.8,242H583.4"/>
<path d="M586.8,199.8V213.8M585,199.8H588.6M585,213.8H588.6"/>
<path d="M592,209V223M590.2,209H593.8M590.2,223H593.8"/>
<path d="M597.3,203.3V217.3M595.5,203.3H599.1M595.5,217.3H599.1"/>
<path d="M602.4,212.1V226.1M600.6,212.1H604.2M600.6,226.1H604.2"/>
<path d="M607.6,219.3V233.3M605.8,219.3H609.4M605.8,233.3H609.4"/>
<path d="M612.6,221.8V235.8M610.8,221.8H614.4M610.8,235.8H614.4"/>
<path d="M617.8,232.9V246.9M616,232.9H619.6M616,246.9H619.6"/>
</g>
<g fill="#ffff00" stroke="#92d050" stroke-width="1.1">
<circle cx="380.2" cy="261.2" r="3.65"/>
<circle cx="385.6" cy="251.3" r="3.65"/>
<circle cx="390.9" cy="249.4" r="3.65"/>
<circle cx="396" cy="256.8" r="3.65"/>
<circle cx="400.8" cy="238.3" r="3.65"/>
<circle cx="406.1" cy="241.2" r="3.65"/>
<circle cx="411.2" cy="206" r="3.65"/>
<circle cx="416.4" cy="233.4" r="3.65"/>
<circle cx="421.7" cy="208.9" r="3.65"/>
<circle cx="426.8" cy="225.5" r="3.65"/>
<circle cx="432" cy="204" r="3.65"/>
<circle cx="437.2" cy="216.9" r="3.65"/>
<circle cx="442.3" cy="220" r="3.65"/>
<circle cx="447.4" cy="221.4" r="3.65"/>
<circle cx="452.6" cy="201.8" r="3.65"/>
<circle cx="458" cy="198.3" r="3.65"/>
<circle cx="463.1" cy="210.7" r="3.65"/>
<circle cx="468.2" cy="220.5" r="3.65"/>
<circle cx="473.3" cy="217.3" r="3.65"/>
<circle cx="478.5" cy="231.9" r="3.65"/>
<circle cx="483.6" cy="236" r="3.65"/>
<circle cx="488.8" cy="240.1" r="3.65"/>
<circle cx="494.1" cy="236.9" r="3.65"/>
<circle cx="499.2" cy="236" r="3.65"/>
<circle cx="504.2" cy="227.5" r="3.65"/>
<circle cx="509.3" cy="241" r="3.65"/>
<circle cx="514.6" cy="244.4" r="3.65"/>
<circle cx="519.7" cy="236" r="3.65"/>
<circle cx="524.9" cy="228" r="3.65"/>
<circle cx="529.9" cy="227.5" r="3.65"/>
<circle cx="535.1" cy="215.9" r="3.65"/>
<circle cx="540.3" cy="214" r="3.65"/>
<circle cx="545.5" cy="203.4" r="3.65"/>
<circle cx="550.7" cy="225.5" r="3.65"/>
<circle cx="555.8" cy="214" r="3.65"/>
<circle cx="560.9" cy="219.1" r="3.65"/>
<circle cx="566.1" cy="221.8" r="3.65"/>
<circle cx="571.4" cy="227.3" r="3.65"/>
<circle cx="576.4" cy="232.8" r="3.65"/>
<circle cx="581.6" cy="235" r="3.65"/>
<circle cx="586.8" cy="206.8" r="3.65"/>
<circle cx="592" cy="216" r="3.65"/>
<circle cx="597.3" cy="210.3" r="3.65"/>
<circle cx="602.4" cy="219.1" r="3.65"/>
<circle cx="607.6" cy="226.3" r="3.65"/>
<circle cx="612.6" cy="228.8" r="3.65"/>
<circle cx="617.8" cy="239.9" r="3.65"/>
<circle cx="622.7" cy="256.5" r="3.65"/>
<circle cx="628.1" cy="253.7" r="3.65"/>
<circle cx="633.5" cy="249.7" r="3.65"/>
<circle cx="638.5" cy="251.1" r="3.65"/>
<circle cx="643.7" cy="246" r="3.65"/>
<circle cx="648.7" cy="243.7" r="3.65"/>
</g>
<g fill="#ff0000" stroke="#ffc000" stroke-width="1.1">
<circle cx="380.2" cy="252.3" r="3.65"/>
<circle cx="385.6" cy="203.3" r="3.65"/>
<circle cx="390.9" cy="206.4" r="3.65"/>
<circle cx="396" cy="234.3" r="3.65"/>
<circle cx="400.8" cy="208.1" r="3.65"/>
<circle cx="406.1" cy="210.1" r="3.65"/>
<circle cx="411.2" cy="208.3" r="3.65"/>
<circle cx="416.4" cy="198.5" r="3.65"/>
<circle cx="421.7" cy="203.2" r="3.65"/>
<circle cx="426.8" cy="190" r="3.65"/>
<circle cx="432" cy="200.2" r="3.65"/>
<circle cx="437.2" cy="222" r="3.65"/>
<circle cx="442.3" cy="219.7" r="3.65"/>
<circle cx="447.4" cy="229.3" r="3.65"/>
<circle cx="452.6" cy="232.6" r="3.65"/>
<circle cx="458" cy="248.7" r="3.65"/>
<circle cx="463.1" cy="263.6" r="3.65"/>
<circle cx="468.2" cy="266.8" r="3.65"/>
<circle cx="473.3" cy="273.2" r="3.65"/>
<circle cx="478.5" cy="270.1" r="3.65"/>
<circle cx="483.6" cy="270.9" r="3.65"/>
<circle cx="488.8" cy="269.1" r="3.65"/>
<circle cx="494.1" cy="261.6" r="3.65"/>
<circle cx="499.2" cy="267.3" r="3.65"/>
<circle cx="504.2" cy="247.9" r="3.65"/>
<circle cx="509.3" cy="240.9" r="3.65"/>
<circle cx="514.6" cy="237.8" r="3.65"/>
<circle cx="519.7" cy="234.9" r="3.65"/>
<circle cx="524.9" cy="218.1" r="3.65"/>
<circle cx="529.9" cy="209" r="3.65"/>
<circle cx="535.1" cy="207.4" r="3.65"/>
<circle cx="540.3" cy="212.2" r="3.65"/>
<circle cx="545.5" cy="195.5" r="3.65"/>
<circle cx="550.7" cy="197.6" r="3.65"/>
<circle cx="555.8" cy="205.4" r="3.65"/>
<circle cx="560.9" cy="207.7" r="3.65"/>
<circle cx="566.1" cy="194" r="3.65"/>
<circle cx="571.4" cy="211.8" r="3.65"/>
<circle cx="576.4" cy="204.7" r="3.65"/>
<circle cx="581.6" cy="231.8" r="3.65"/>
<circle cx="586.8" cy="238.8" r="3.65"/>
<circle cx="592" cy="264.1" r="3.65"/>
<circle cx="597.3" cy="276.2" r="3.65"/>
<circle cx="602.4" cy="259.1" r="3.65"/>
<circle cx="607.6" cy="252.7" r="3.65"/>
<circle cx="612.6" cy="268.5" r="3.65"/>
<circle cx="617.8" cy="268.1" r="3.65"/>
<circle cx="622.7" cy="278.8" r="3.65"/>
<circle cx="628.1" cy="274.1" r="3.65"/>
<circle cx="633.5" cy="243.7" r="3.65"/>
<circle cx="638.5" cy="235.5" r="3.65"/>
<circle cx="643.7" cy="248.1" r="3.65"/>
<circle cx="648.7" cy="209" r="3.65"/>
</g>
<text x="382.9" y="178" font-family="'Liberation Serif', serif" font-size="12" fill="#1a1a1a" xml:space="preserve">Rice monoculture</text>
<line x1="488.5" y1="171.3" x2="513.7" y2="171.3" stroke="#000" stroke-width="1.2" stroke-dasharray="3,1.6"/>
<line x1="560" y1="171.3" x2="585" y2="171.3" stroke="#000" stroke-width="1.2" stroke-dasharray="3,1.6"/>
<circle cx="501.6" cy="171.3" r="3.1" fill="#ffff00" stroke="#92d050" stroke-width="1.1"/>
<circle cx="572" cy="171.3" r="3.1" fill="#ff0000" stroke="#ffc000" stroke-width="1.1"/>
<text x="516.4" y="174.6" font-family="'Liberation Serif', serif" font-size="9.4" fill="#1a1a1a">N<tspan font-size="5.64" dy="1.5">2</tspan><tspan dy="-1.5">O flux</tspan></text>
<text x="587.4" y="174.6" font-family="'Liberation Serif', serif" font-size="9.4" fill="#1a1a1a">Air temperature</text>
<rect x="378.7" y="164.8" width="75.2" height="125.3" fill="#a8a8a8" fill-opacity="0.34"/>
<rect x="514.3" y="164.8" width="75.7" height="125.3" fill="#a8a8a8" fill-opacity="0.34"/>
<rect x="378.7" y="164.8" width="271.4" height="125.3" fill="none" stroke="#111" stroke-width="1.15"/>
<line x1="378.7" y1="290.1" x2="382.7" y2="290.1" stroke="#1a1a1a" stroke-width="1"/>
<text x="371.1" y="294.4" text-anchor="end" font-family="'Liberation Serif', serif" font-size="10.3" fill="#1a1a1a">0</text>
<line x1="378.7" y1="265.04" x2="382.7" y2="265.04" stroke="#1a1a1a" stroke-width="1"/>
<text x="371.1" y="269.34" text-anchor="end" font-family="'Liberation Serif', serif" font-size="10.3" fill="#1a1a1a">20</text>
<line x1="378.7" y1="239.98" x2="382.7" y2="239.98" stroke="#1a1a1a" stroke-width="1"/>
<text x="371.1" y="244.28" text-anchor="end" font-family="'Liberation Serif', serif" font-size="10.3" fill="#1a1a1a">40</text>
<line x1="378.7" y1="214.92" x2="382.7" y2="214.92" stroke="#1a1a1a" stroke-width="1"/>
<text x="371.1" y="219.22" text-anchor="end" font-family="'Liberation Serif', serif" font-size="10.3" fill="#1a1a1a">60</text>
<line x1="378.7" y1="189.86" x2="382.7" y2="189.86" stroke="#1a1a1a" stroke-width="1"/>
<text x="371.1" y="194.16" text-anchor="end" font-family="'Liberation Serif', serif" font-size="10.3" fill="#1a1a1a">80</text>
<line x1="378.7" y1="164.8" x2="382.7" y2="164.8" stroke="#1a1a1a" stroke-width="1"/>
<text x="371.1" y="169.1" text-anchor="end" font-family="'Liberation Serif', serif" font-size="10.3" fill="#1a1a1a">100</text>
<line x1="646.1" y1="290.1" x2="650.1" y2="290.1" stroke="#1a1a1a" stroke-width="1"/>
<text x="657.3" y="294.4" font-family="'Liberation Serif', serif" font-size="10.3" fill="#1a1a1a">0</text>
<line x1="646.1" y1="258.78" x2="650.1" y2="258.78" stroke="#1a1a1a" stroke-width="1"/>
<text x="657.3" y="263.08" font-family="'Liberation Serif', serif" font-size="10.3" fill="#1a1a1a">10</text>
<line x1="646.1" y1="227.45" x2="650.1" y2="227.45" stroke="#1a1a1a" stroke-width="1"/>
<text x="657.3" y="231.75" font-family="'Liberation Serif', serif" font-size="10.3" fill="#1a1a1a">20</text>
<line x1="646.1" y1="196.12" x2="650.1" y2="196.12" stroke="#1a1a1a" stroke-width="1"/>
<text x="657.3" y="200.43" font-family="'Liberation Serif', serif" font-size="10.3" fill="#1a1a1a">30</text>
<line x1="646.1" y1="164.8" x2="650.1" y2="164.8" stroke="#1a1a1a" stroke-width="1"/>
<text x="657.3" y="169.1" font-family="'Liberation Serif', serif" font-size="10.3" fill="#1a1a1a">40</text>
<line x1="378.7" y1="290.1" x2="378.7" y2="287.3" stroke="#1a1a1a" stroke-width="1"/>
<text x="378.7" y="303.7" text-anchor="middle" font-family="'Liberation Serif', serif" font-size="8.6" fill="#1a1a1a">2020/4/16</text>
<line x1="401.09" y1="290.1" x2="401.09" y2="287.3" stroke="#1a1a1a" stroke-width="1"/>
<line x1="423.48" y1="290.1" x2="423.48" y2="287.3" stroke="#1a1a1a" stroke-width="1"/>
<text x="423.48" y="303.7" text-anchor="middle" font-family="'Liberation Serif', serif" font-size="8.6" fill="#1a1a1a">2020/8/16</text>
<line x1="445.87" y1="290.1" x2="445.87" y2="287.3" stroke="#1a1a1a" stroke-width="1"/>
<line x1="468.26" y1="290.1" x2="468.26" y2="287.3" stroke="#1a1a1a" stroke-width="1"/>
<text x="468.26" y="303.7" text-anchor="middle" font-family="'Liberation Serif', serif" font-size="8.6" fill="#1a1a1a">2020/12/16</text>
<line x1="490.65" y1="290.1" x2="490.65" y2="287.3" stroke="#1a1a1a" stroke-width="1"/>
<line x1="513.04" y1="290.1" x2="513.04" y2="287.3" stroke="#1a1a1a" stroke-width="1"/>
<text x="513.04" y="303.7" text-anchor="middle" font-family="'Liberation Serif', serif" font-size="8.6" fill="#1a1a1a">2021/4/16</text>
<line x1="535.43" y1="290.1" x2="535.43" y2="287.3" stroke="#1a1a1a" stroke-width="1"/>
<line x1="557.82" y1="290.1" x2="557.82" y2="287.3" stroke="#1a1a1a" stroke-width="1"/>
<text x="557.82" y="303.7" text-anchor="middle" font-family="'Liberation Serif', serif" font-size="8.6" fill="#1a1a1a">2021/8/16</text>
<line x1="580.21" y1="290.1" x2="580.21" y2="287.3" stroke="#1a1a1a" stroke-width="1"/>
<line x1="602.6" y1="290.1" x2="602.6" y2="287.3" stroke="#1a1a1a" stroke-width="1"/>
<text x="602.6" y="303.7" text-anchor="middle" font-family="'Liberation Serif', serif" font-size="8.6" fill="#1a1a1a">2021/12/16</text>
<line x1="624.99" y1="290.1" x2="624.99" y2="287.3" stroke="#1a1a1a" stroke-width="1"/>
<line x1="647.38" y1="290.1" x2="647.38" y2="287.3" stroke="#1a1a1a" stroke-width="1"/>
<text x="647.38" y="303.7" text-anchor="middle" font-family="'Liberation Serif', serif" font-size="8.6" fill="#1a1a1a">2022/4/16</text>
<text transform="translate(352.4,222.6) rotate(-90)" text-anchor="middle" font-family="'Liberation Serif', serif" font-size="10.4" fill="#1a1a1a">N<tspan font-size="6.760000000000001" dy="2">2</tspan><tspan dy="-2">O flux (mg/m</tspan><tspan font-size="6.760000000000001" dy="-3.5">2</tspan><tspan dy="3.5">/h)</tspan></text>
<text transform="translate(677.6,226.9) rotate(-90)" text-anchor="middle" font-family="'Liberation Serif', serif" font-size="10.4" fill="#1a1a1a">Air temperatue (°C)</text>
<g fill="none" stroke="#000" stroke-width="1.2" stroke-dasharray="3,1.6">
<polyline points="32.9,412.2 38.3,359.4 43.2,362.7 48.3,392.8 53.4,364.5 58.6,366.5 63.6,364.9 68.7,354.2 73.7,359.4 78.9,344.6 84.1,355.9 89,380 94.3,376.8 99.3,387.4 104.4,391 109.4,408.3 114.4,424.6 119.7,427.7 124.7,434.6 129.7,431.4 135,432.1 140.1,430.5 145.3,422.2 150.5,428.7 155.6,407.2 160.5,399.9 165.5,396.3 170.7,393.2 175.8,375.5 180.7,365.5 185.8,363.5 190.9,369 196.1,350.4 201.2,353.1 206.4,361.3 211.4,363.8 216.5,349 221.6,368.2 226.8,360.4 231.8,390 236.9,397.5 242,425 246.9,437.6 252,419.7 257.1,412.8 262.2,430.1 267.5,429 272.3,440.9 277.6,435.5 282.7,403.5 287.9,394.2 293,408.4 298.1,365"/>
<polyline points="32.9,424.6 38.3,414.3 43.2,404.7 48.3,401.9 53.4,400.6 58.6,392.6 63.6,400.3 68.7,400.3 73.7,398.5 78.9,399.9 84.1,395.8 89,404.7 94.3,391 99.3,419.5 104.4,433.8 109.4,434.4 114.4,434.9 119.7,437.3 124.7,439 129.7,437.9 135,437.3 140.1,437.6 145.3,436.5 150.5,434.2 155.6,430.8 160.5,408.3 165.5,417.1 170.7,411.8 175.8,404.4 180.7,400.1 185.8,398.1 190.9,398.1 196.1,396.4 201.2,386.9 206.4,400.3 211.4,397.6 216.5,394.1 221.6,382.8 226.8,394.9 231.8,406.3 236.9,416.3 242,432.2 246.9,440.4 252,441.9 257.1,443.4 262.2,444.9 267.5,441.2 272.3,438 277.6,433.5 282.7,429 287.9,430.8 293,426.1 298.1,421.2"/>
</g>
<g stroke="#1a1a1a" stroke-width="0.9" fill="none">
<path d="M43.2,398.5V410.9M41.4,398.5H45M41.4,410.9H45"/>
<path d="M48.3,395.7V408.1M46.5,395.7H50.1M46.5,408.1H50.1"/>
<path d="M53.4,394.4V406.8M51.6,394.4H55.2M51.6,406.8H55.2"/>
<path d="M58.6,386.4V398.8M56.8,386.4H60.4M56.8,398.8H60.4"/>
<path d="M63.6,394.1V406.5M61.8,394.1H65.4M61.8,406.5H65.4"/>
<path d="M68.7,394.1V406.5M66.9,394.1H70.5M66.9,406.5H70.5"/>
<path d="M73.7,392.3V404.7M71.9,392.3H75.5M71.9,404.7H75.5"/>
<path d="M78.9,393.7V406.1M77.1,393.7H80.7M77.1,406.1H80.7"/>
<path d="M84.1,389.6V402M82.3,389.6H85.9M82.3,402H85.9"/>
<path d="M89,398.5V410.9M87.2,398.5H90.8M87.2,410.9H90.8"/>
<path d="M94.3,384.8V397.2M92.5,384.8H96.1M92.5,397.2H96.1"/>
<path d="M99.3,413.3V425.7M97.5,413.3H101.1M97.5,425.7H101.1"/>
<path d="M170.7,405.6V418M168.9,405.6H172.5M168.9,418H172.5"/>
<path d="M175.8,398.2V410.6M174,398.2H177.6M174,410.6H177.6"/>
<path d="M180.7,393.9V406.3M178.9,393.9H182.5M178.9,406.3H182.5"/>
<path d="M185.8,391.9V404.3M184,391.9H187.6M184,404.3H187.6"/>
<path d="M190.9,391.9V404.3M189.1,391.9H192.7M189.1,404.3H192.7"/>
<path d="M196.1,390.2V402.6M194.3,390.2H197.9M194.3,402.6H197.9"/>
<path d="M201.2,380.7V393.1M199.4,380.7H203M199.4,393.1H203"/>
<path d="M206.4,394.1V406.5M204.6,394.1H208.2M204.6,406.5H208.2"/>
<path d="M211.4,391.4V403.8M209.6,391.4H213.2M209.6,403.8H213.2"/>
<path d="M216.5,387.9V400.3M214.7,387.9H218.3M214.7,400.3H218.3"/>
<path d="M221.6,376.6V389M219.8,376.6H223.4M219.8,389H223.4"/>
<path d="M226.8,388.7V401.1M225,388.7H228.6M225,401.1H228.6"/>
<path d="M231.8,400.1V412.5M230,400.1H233.6M230,412.5H233.6"/>
<path d="M236.9,410.1V422.5M235.1,410.1H238.7M235.1,422.5H238.7"/>
</g>
<g fill="#ffff00" stroke="#00b050" stroke-width="1.3">
<circle cx="32.9" cy="424.6" r="3.65"/>
<circle cx="38.3" cy="414.3" r="3.65"/>
<circle cx="43.2" cy="404.7" r="3.65"/>
<circle cx="48.3" cy="401.9" r="3.65"/>
<circle cx="53.4" cy="400.6" r="3.65"/>
<circle cx="58.6" cy="392.6" r="3.65"/>
<circle cx="63.6" cy="400.3" r="3.65"/>
<circle cx="68.7" cy="400.3" r="3.65"/>
<circle cx="73.7" cy="398.5" r="3.65"/>
<circle cx="78.9" cy="399.9" r="3.65"/>
<circle cx="84.1" cy="395.8" r="3.65"/>
<circle cx="89" cy="404.7" r="3.65"/>
<circle cx="94.3" cy="391" r="3.65"/>
<circle cx="99.3" cy="419.5" r="3.65"/>
<circle cx="104.4" cy="433.8" r="3.65"/>
<circle cx="109.4" cy="434.4" r="3.65"/>
<circle cx="114.4" cy="434.9" r="3.65"/>
<circle cx="119.7" cy="437.3" r="3.65"/>
<circle cx="124.7" cy="439" r="3.65"/>
<circle cx="129.7" cy="437.9" r="3.65"/>
<circle cx="135" cy="437.3" r="3.65"/>
<circle cx="140.1" cy="437.6" r="3.65"/>
<circle cx="145.3" cy="436.5" r="3.65"/>
<circle cx="150.5" cy="434.2" r="3.65"/>
<circle cx="155.6" cy="430.8" r="3.65"/>
<circle cx="160.5" cy="408.3" r="3.65"/>
<circle cx="165.5" cy="417.1" r="3.65"/>
<circle cx="170.7" cy="411.8" r="3.65"/>
<circle cx="175.8" cy="404.4" r="3.65"/>
<circle cx="180.7" cy="400.1" r="3.65"/>
<circle cx="185.8" cy="398.1" r="3.65"/>
<circle cx="190.9" cy="398.1" r="3.65"/>
<circle cx="196.1" cy="396.4" r="3.65"/>
<circle cx="201.2" cy="386.9" r="3.65"/>
<circle cx="206.4" cy="400.3" r="3.65"/>
<circle cx="211.4" cy="397.6" r="3.65"/>
<circle cx="216.5" cy="394.1" r="3.65"/>
<circle cx="221.6" cy="382.8" r="3.65"/>
<circle cx="226.8" cy="394.9" r="3.65"/>
<circle cx="231.8" cy="406.3" r="3.65"/>
<circle cx="236.9" cy="416.3" r="3.65"/>
<circle cx="242" cy="432.2" r="3.65"/>
<circle cx="246.9" cy="440.4" r="3.65"/>
<circle cx="252" cy="441.9" r="3.65"/>
<circle cx="257.1" cy="443.4" r="3.65"/>
<circle cx="262.2" cy="444.9" r="3.65"/>
<circle cx="267.5" cy="441.2" r="3.65"/>
<circle cx="272.3" cy="438" r="3.65"/>
<circle cx="277.6" cy="433.5" r="3.65"/>
<circle cx="282.7" cy="429" r="3.65"/>
<circle cx="287.9" cy="430.8" r="3.65"/>
<circle cx="293" cy="426.1" r="3.65"/>
<circle cx="298.1" cy="421.2" r="3.65"/>
</g>
<g fill="#ff0000" stroke="#ffc000" stroke-width="1.1">
<circle cx="32.9" cy="412.2" r="3.65"/>
<circle cx="38.3" cy="359.4" r="3.65"/>
<circle cx="43.2" cy="362.7" r="3.65"/>
<circle cx="48.3" cy="392.8" r="3.65"/>
<circle cx="53.4" cy="364.5" r="3.65"/>
<circle cx="58.6" cy="366.5" r="3.65"/>
<circle cx="63.6" cy="364.9" r="3.65"/>
<circle cx="68.7" cy="354.2" r="3.65"/>
<circle cx="73.7" cy="359.4" r="3.65"/>
<circle cx="78.9" cy="344.6" r="3.65"/>
<circle cx="84.1" cy="355.9" r="3.65"/>
<circle cx="89" cy="380" r="3.65"/>
<circle cx="94.3" cy="376.8" r="3.65"/>
<circle cx="99.3" cy="387.4" r="3.65"/>
<circle cx="104.4" cy="391" r="3.65"/>
<circle cx="109.4" cy="408.3" r="3.65"/>
<circle cx="114.4" cy="424.6" r="3.65"/>
<circle cx="119.7" cy="427.7" r="3.65"/>
<circle cx="124.7" cy="434.6" r="3.65"/>
<circle cx="129.7" cy="431.4" r="3.65"/>
<circle cx="135" cy="432.1" r="3.65"/>
<circle cx="140.1" cy="430.5" r="3.65"/>
<circle cx="145.3" cy="422.2" r="3.65"/>
<circle cx="150.5" cy="428.7" r="3.65"/>
<circle cx="155.6" cy="407.2" r="3.65"/>
<circle cx="160.5" cy="399.9" r="3.65"/>
<circle cx="165.5" cy="396.3" r="3.65"/>
<circle cx="170.7" cy="393.2" r="3.65"/>
<circle cx="175.8" cy="375.5" r="3.65"/>
<circle cx="180.7" cy="365.5" r="3.65"/>
<circle cx="185.8" cy="363.5" r="3.65"/>
<circle cx="190.9" cy="369" r="3.65"/>
<circle cx="196.1" cy="350.4" r="3.65"/>
<circle cx="201.2" cy="353.1" r="3.65"/>
<circle cx="206.4" cy="361.3" r="3.65"/>
<circle cx="211.4" cy="363.8" r="3.65"/>
<circle cx="216.5" cy="349" r="3.65"/>
<circle cx="221.6" cy="368.2" r="3.65"/>
<circle cx="226.8" cy="360.4" r="3.65"/>
<circle cx="231.8" cy="390" r="3.65"/>
<circle cx="236.9" cy="397.5" r="3.65"/>
<circle cx="242" cy="425" r="3.65"/>
<circle cx="246.9" cy="437.6" r="3.65"/>
<circle cx="252" cy="419.7" r="3.65"/>
<circle cx="257.1" cy="412.8" r="3.65"/>
<circle cx="262.2" cy="430.1" r="3.65"/>
<circle cx="267.5" cy="429" r="3.65"/>
<circle cx="272.3" cy="440.9" r="3.65"/>
<circle cx="277.6" cy="435.5" r="3.65"/>
<circle cx="282.7" cy="403.5" r="3.65"/>
<circle cx="287.9" cy="394.2" r="3.65"/>
<circle cx="293" cy="408.4" r="3.65"/>
<circle cx="298.1" cy="365" r="3.65"/>
</g>
<text x="32.5" y="328.6" font-family="'Liberation Serif', serif" font-size="12" fill="#1a1a1a" xml:space="preserve">Rice-shrimp coculture</text>
<line x1="144.2" y1="325.7" x2="168.6" y2="325.7" stroke="#000" stroke-width="1.2" stroke-dasharray="3,1.6"/>
<line x1="209.3" y1="325.7" x2="234.3" y2="325.7" stroke="#000" stroke-width="1.2" stroke-dasharray="3,1.6"/>
<circle cx="156.3" cy="325.7" r="3.1" fill="#ffff00" stroke="#00b050" stroke-width="1.3"/>
<circle cx="222" cy="325.7" r="3.1" fill="#ff0000" stroke="#ffc000" stroke-width="1.1"/>
<text x="171.2" y="329" font-family="'Liberation Serif', serif" font-size="9.4" fill="#1a1a1a">CH<tspan font-size="5.64" dy="1.5">4</tspan><tspan dy="-1.5"> flux</tspan></text>
<text x="236.9" y="329" font-family="'Liberation Serif', serif" font-size="9.4" fill="#1a1a1a">Air temperature</text>
<rect x="31.3" y="316.9" width="74.6" height="136.3" fill="#a8a8a8" fill-opacity="0.34"/>
<rect x="163.2" y="316.9" width="75.6" height="136.3" fill="#a8a8a8" fill-opacity="0.34"/>
<rect x="31.6" y="316.9" width="268.6" height="136.3" fill="none" stroke="#111" stroke-width="1.15"/>
<line x1="31.6" y1="453.2" x2="35.6" y2="453.2" stroke="#1a1a1a" stroke-width="1"/>
<text x="24" y="457.5" text-anchor="end" font-family="'Liberation Serif', serif" font-size="10.3" fill="#1a1a1a">0</text>
<line x1="31.6" y1="419.12" x2="35.6" y2="419.12" stroke="#1a1a1a" stroke-width="1"/>
<text x="24" y="423.43" text-anchor="end" font-family="'Liberation Serif', serif" font-size="10.3" fill="#1a1a1a">2</text>
<line x1="31.6" y1="385.05" x2="35.6" y2="385.05" stroke="#1a1a1a" stroke-width="1"/>
<text x="24" y="389.35" text-anchor="end" font-family="'Liberation Serif', serif" font-size="10.3" fill="#1a1a1a">4</text>
<line x1="31.6" y1="350.97" x2="35.6" y2="350.97" stroke="#1a1a1a" stroke-width="1"/>
<text x="24" y="355.27" text-anchor="end" font-family="'Liberation Serif', serif" font-size="10.3" fill="#1a1a1a">6</text>
<line x1="31.6" y1="316.9" x2="35.6" y2="316.9" stroke="#1a1a1a" stroke-width="1"/>
<text x="24" y="321.2" text-anchor="end" font-family="'Liberation Serif', serif" font-size="10.3" fill="#1a1a1a">8</text>
<line x1="296.2" y1="453.2" x2="300.2" y2="453.2" stroke="#1a1a1a" stroke-width="1"/>
<text x="307.4" y="457.5" font-family="'Liberation Serif', serif" font-size="10.3" fill="#1a1a1a">0</text>
<line x1="296.2" y1="419.12" x2="300.2" y2="419.12" stroke="#1a1a1a" stroke-width="1"/>
<text x="307.4" y="423.43" font-family="'Liberation Serif', serif" font-size="10.3" fill="#1a1a1a">10</text>
<line x1="296.2" y1="385.05" x2="300.2" y2="385.05" stroke="#1a1a1a" stroke-width="1"/>
<text x="307.4" y="389.35" font-family="'Liberation Serif', serif" font-size="10.3" fill="#1a1a1a">20</text>
<line x1="296.2" y1="350.97" x2="300.2" y2="350.97" stroke="#1a1a1a" stroke-width="1"/>
<text x="307.4" y="355.27" font-family="'Liberation Serif', serif" font-size="10.3" fill="#1a1a1a">30</text>
<line x1="296.2" y1="316.9" x2="300.2" y2="316.9" stroke="#1a1a1a" stroke-width="1"/>
<text x="307.4" y="321.2" font-family="'Liberation Serif', serif" font-size="10.3" fill="#1a1a1a">40</text>
<line x1="31.6" y1="453.2" x2="31.6" y2="450.4" stroke="#1a1a1a" stroke-width="1"/>
<text x="31.6" y="466.8" text-anchor="middle" font-family="'Liberation Serif', serif" font-size="8.6" fill="#1a1a1a">2020/4/16</text>
<line x1="53.67" y1="453.2" x2="53.67" y2="450.4" stroke="#1a1a1a" stroke-width="1"/>
<line x1="75.74" y1="453.2" x2="75.74" y2="450.4" stroke="#1a1a1a" stroke-width="1"/>
<text x="75.74" y="466.8" text-anchor="middle" font-family="'Liberation Serif', serif" font-size="8.6" fill="#1a1a1a">2020/8/16</text>
<line x1="97.81" y1="453.2" x2="97.81" y2="450.4" stroke="#1a1a1a" stroke-width="1"/>
<line x1="119.88" y1="453.2" x2="119.88" y2="450.4" stroke="#1a1a1a" stroke-width="1"/>
<text x="119.88" y="466.8" text-anchor="middle" font-family="'Liberation Serif', serif" font-size="8.6" fill="#1a1a1a">2020/12/16</text>
<line x1="141.95" y1="453.2" x2="141.95" y2="450.4" stroke="#1a1a1a" stroke-width="1"/>
<line x1="164.02" y1="453.2" x2="164.02" y2="450.4" stroke="#1a1a1a" stroke-width="1"/>
<text x="164.02" y="466.8" text-anchor="middle" font-family="'Liberation Serif', serif" font-size="8.6" fill="#1a1a1a">2021/4/16</text>
<line x1="186.09" y1="453.2" x2="186.09" y2="450.4" stroke="#1a1a1a" stroke-width="1"/>
<line x1="208.16" y1="453.2" x2="208.16" y2="450.4" stroke="#1a1a1a" stroke-width="1"/>
<text x="208.16" y="466.8" text-anchor="middle" font-family="'Liberation Serif', serif" font-size="8.6" fill="#1a1a1a">2021/8/16</text>
<line x1="230.23" y1="453.2" x2="230.23" y2="450.4" stroke="#1a1a1a" stroke-width="1"/>
<line x1="252.3" y1="453.2" x2="252.3" y2="450.4" stroke="#1a1a1a" stroke-width="1"/>
<text x="252.3" y="466.8" text-anchor="middle" font-family="'Liberation Serif', serif" font-size="8.6" fill="#1a1a1a">2021/12/16</text>
<line x1="274.37" y1="453.2" x2="274.37" y2="450.4" stroke="#1a1a1a" stroke-width="1"/>
<line x1="296.44" y1="453.2" x2="296.44" y2="450.4" stroke="#1a1a1a" stroke-width="1"/>
<text x="296.44" y="466.8" text-anchor="middle" font-family="'Liberation Serif', serif" font-size="8.6" fill="#1a1a1a">2022/4/16</text>
<text transform="translate(11.8,377.1) rotate(-90)" text-anchor="middle" font-family="'Liberation Serif', serif" font-size="10.4" fill="#1a1a1a">CH<tspan font-size="6.760000000000001" dy="2">4</tspan><tspan dy="-2"> flux (mg/m</tspan><tspan font-size="6.760000000000001" dy="-3.5">2</tspan><tspan dy="3.5">/h)</tspan></text>
<text transform="translate(332.7,384.7) rotate(-90)" text-anchor="middle" font-family="'Liberation Serif', serif" font-size="10.4" fill="#1a1a1a">Air temperatue (°C)</text>
<g fill="none" stroke="#000" stroke-width="1.2" stroke-dasharray="3,1.6">
<polyline points="377.8,414.5 383,360.8 388.2,364.5 393.3,394.6 398.7,366.3 403.9,368.2 409,366.3 414.3,355.6 419.3,360.8 424.8,346.2 429.9,357.2 435,381.6 440.3,378.6 445.6,389.7 450.6,393 456,410.6 461.1,427 466.3,430.3 471.5,437.1 476.7,433.7 481.9,435.1 487.2,433 492.3,424.8 497.5,431 502.8,409.7 507.9,402 513,398.5 518.5,395.3 523.3,377.2 528.6,367.2 534,365.2 539.1,370.4 544.4,351.8 549.4,354.9 554.7,362.7 560,365.5 565.2,350.4 570.4,370 575.5,362.2 581,391.8 586,399.2 591.4,427.5 596.5,440.6 601.7,422.2 606.8,415.3 612,432.2 617.2,431.7 622.5,443.3 627.7,438.5 633,405.4 637.9,396.3 642.9,410.2 648.2,367.4"/>
<polyline points="377.8,428.6 383,413.1 388.2,411.3 393.3,419.6 398.7,398.8 403.9,402.6 409,377.5 414.3,393.8 419.3,366.8 424.8,385.8 429.9,353.9 435,375.5 440.3,378 445.6,380.5 450.6,359.4 456,355.5 461.1,368.6 466.3,379.2 471.5,376.2 476.7,391.9 481.9,396.8 487.2,400.5 492.3,397.7 497.5,396.6 502.8,387.3 507.9,401 513,405.6 518.5,397 523.3,387.9 528.6,387.3 534,374.8 539.1,371 544.4,371.8 549.4,382.3 554.7,386.4 560,373.4 565.2,381 570.4,386.9 575.5,393.3 581,395.4 586,364.6 591.4,375.2 596.5,368.6 601.7,378.4 606.8,386.2 612,388.8 617.2,400 622.5,419.5 627.7,416.5 633,411.7 637.9,413.2 642.9,404.3 648.2,405.4"/>
</g>
<g stroke="#1a1a1a" stroke-width="0.9" fill="none">
<path d="M383,406.1V420.1M381.2,406.1H384.8M381.2,420.1H384.8"/>
<path d="M388.2,404.3V418.3M386.4,404.3H390M386.4,418.3H390"/>
<path d="M393.3,412.6V426.6M391.5,412.6H395.1M391.5,426.6H395.1"/>
<path d="M398.7,391.8V405.8M396.9,391.8H400.5M396.9,405.8H400.5"/>
<path d="M403.9,395.6V409.6M402.1,395.6H405.7M402.1,409.6H405.7"/>
<path d="M409,370.5V384.5M407.2,370.5H410.8M407.2,384.5H410.8"/>
<path d="M414.3,386.8V400.8M412.5,386.8H416.1M412.5,400.8H416.1"/>
<path d="M419.3,359.8V373.8M417.5,359.8H421.1M417.5,373.8H421.1"/>
<path d="M424.8,378.8V392.8M423,378.8H426.6M423,392.8H426.6"/>
<path d="M429.9,346.9V360.9M428.1,346.9H431.7M428.1,360.9H431.7"/>
<path d="M435,368.5V382.5M433.2,368.5H436.8M433.2,382.5H436.8"/>
<path d="M440.3,371V385M438.5,371H442.1M438.5,385H442.1"/>
<path d="M445.6,373.5V387.5M443.8,373.5H447.4M443.8,387.5H447.4"/>
<path d="M450.6,352.4V366.4M448.8,352.4H452.4M448.8,366.4H452.4"/>
<path d="M456,348.5V362.5M454.2,348.5H457.8M454.2,362.5H457.8"/>
<path d="M461.1,361.6V375.6M459.3,361.6H462.9M459.3,375.6H462.9"/>
<path d="M466.3,372.2V386.2M464.5,372.2H468.1M464.5,386.2H468.1"/>
<path d="M471.5,369.2V383.2M469.7,369.2H473.3M469.7,383.2H473.3"/>
<path d="M476.7,384.9V398.9M474.9,384.9H478.5M474.9,398.9H478.5"/>
<path d="M481.9,389.8V403.8M480.1,389.8H483.7M480.1,403.8H483.7"/>
<path d="M487.2,393.5V407.5M485.4,393.5H489M485.4,407.5H489"/>
<path d="M492.3,390.7V404.7M490.5,390.7H494.1M490.5,404.7H494.1"/>
<path d="M497.5,389.6V403.6M495.7,389.6H499.3M495.7,403.6H499.3"/>
<path d="M502.8,380.3V394.3M501,380.3H504.6M501,394.3H504.6"/>
<path d="M507.9,394V408M506.1,394H509.7M506.1,408H509.7"/>
<path d="M513,398.6V412.6M511.2,398.6H514.8M511.2,412.6H514.8"/>
<path d="M518.5,390V404M516.7,390H520.3M516.7,404H520.3"/>
<path d="M523.3,380.9V394.9M521.5,380.9H525.1M521.5,394.9H525.1"/>
<path d="M528.6,380.3V394.3M526.8,380.3H530.4M526.8,394.3H530.4"/>
<path d="M534,367.8V381.8M532.2,367.8H535.8M532.2,381.8H535.8"/>
<path d="M539.1,364V378M537.3,364H540.9M537.3,378H540.9"/>
<path d="M544.4,364.8V378.8M542.6,364.8H546.2M542.6,378.8H546.2"/>
<path d="M549.4,375.3V389.3M547.6,375.3H551.2M547.6,389.3H551.2"/>
<path d="M554.7,379.4V393.4M552.9,379.4H556.5M552.9,393.4H556.5"/>
<path d="M560,366.4V380.4M558.2,366.4H561.8M558.2,380.4H561.8"/>
<path d="M565.2,374V388M563.4,374H567M563.4,388H567"/>
<path d="M570.4,379.9V393.9M568.6,379.9H572.2M568.6,393.9H572.2"/>
<path d="M575.5,386.3V400.3M573.7,386.3H577.3M573.7,400.3H577.3"/>
<path d="M581,388.4V402.4M579.2,388.4H582.8M579.2,402.4H582.8"/>
<path d="M586,357.6V371.6M584.2,357.6H587.8M584.2,371.6H587.8"/>
<path d="M591.4,368.2V382.2M589.6,368.2H593.2M589.6,382.2H593.2"/>
<path d="M596.5,361.6V375.6M594.7,361.6H598.3M594.7,375.6H598.3"/>
<path d="M601.7,371.4V385.4M599.9,371.4H603.5M599.9,385.4H603.5"/>
<path d="M606.8,379.2V393.2M605,379.2H608.6M605,393.2H608.6"/>
<path d="M612,381.8V395.8M610.2,381.8H613.8M610.2,395.8H613.8"/>
<path d="M617.2,393V407M615.4,393H619M615.4,407H619"/>
</g>
<g fill="#ffff00" stroke="#92d050" stroke-width="1.1">
<circle cx="377.8" cy="428.6" r="3.65"/>
<circle cx="383" cy="413.1" r="3.65"/>
<circle cx="388.2" cy="411.3" r="3.65"/>
<circle cx="393.3" cy="419.6" r="3.65"/>
<circle cx="398.7" cy="398.8" r="3.65"/>
<circle cx="403.9" cy="402.6" r="3.65"/>
<circle cx="409" cy="377.5" r="3.65"/>
<circle cx="414.3" cy="393.8" r="3.65"/>
<circle cx="419.3" cy="366.8" r="3.65"/>
<circle cx="424.8" cy="385.8" r="3.65"/>
<circle cx="429.9" cy="353.9" r="3.65"/>
<circle cx="435" cy="375.5" r="3.65"/>
<circle cx="440.3" cy="378" r="3.65"/>
<circle cx="445.6" cy="380.5" r="3.65"/>
<circle cx="450.6" cy="359.4" r="3.65"/>
<circle cx="456" cy="355.5" r="3.65"/>
<circle cx="461.1" cy="368.6" r="3.65"/>
<circle cx="466.3" cy="379.2" r="3.65"/>
<circle cx="471.5" cy="376.2" r="3.65"/>
<circle cx="476.7" cy="391.9" r="3.65"/>
<circle cx="481.9" cy="396.8" r="3.65"/>
<circle cx="487.2" cy="400.5" r="3.65"/>
<circle cx="492.3" cy="397.7" r="3.65"/>
<circle cx="497.5" cy="396.6" r="3.65"/>
<circle cx="502.8" cy="387.3" r="3.65"/>
<circle cx="507.9" cy="401" r="3.65"/>
<circle cx="513" cy="405.6" r="3.65"/>
<circle cx="518.5" cy="397" r="3.65"/>
<circle cx="523.3" cy="387.9" r="3.65"/>
<circle cx="528.6" cy="387.3" r="3.65"/>
<circle cx="534" cy="374.8" r="3.65"/>
<circle cx="539.1" cy="371" r="3.65"/>
<circle cx="544.4" cy="371.8" r="3.65"/>
<circle cx="549.4" cy="382.3" r="3.65"/>
<circle cx="554.7" cy="386.4" r="3.65"/>
<circle cx="560" cy="373.4" r="3.65"/>
<circle cx="565.2" cy="381" r="3.65"/>
<circle cx="570.4" cy="386.9" r="3.65"/>
<circle cx="575.5" cy="393.3" r="3.65"/>
<circle cx="581" cy="395.4" r="3.65"/>
<circle cx="586" cy="364.6" r="3.65"/>
<circle cx="591.4" cy="375.2" r="3.65"/>
<circle cx="596.5" cy="368.6" r="3.65"/>
<circle cx="601.7" cy="378.4" r="3.65"/>
<circle cx="606.8" cy="386.2" r="3.65"/>
<circle cx="612" cy="388.8" r="3.65"/>
<circle cx="617.2" cy="400" r="3.65"/>
<circle cx="622.5" cy="419.5" r="3.65"/>
<circle cx="627.7" cy="416.5" r="3.65"/>
<circle cx="633" cy="411.7" r="3.65"/>
<circle cx="637.9" cy="413.2" r="3.65"/>
<circle cx="642.9" cy="404.3" r="3.65"/>
<circle cx="648.2" cy="405.4" r="3.65"/>
</g>
<g fill="#ff0000" stroke="#ffc000" stroke-width="1.1">
<circle cx="377.8" cy="414.5" r="3.65"/>
<circle cx="383" cy="360.8" r="3.65"/>
<circle cx="388.2" cy="364.5" r="3.65"/>
<circle cx="393.3" cy="394.6" r="3.65"/>
<circle cx="398.7" cy="366.3" r="3.65"/>
<circle cx="403.9" cy="368.2" r="3.65"/>
<circle cx="409" cy="366.3" r="3.65"/>
<circle cx="414.3" cy="355.6" r="3.65"/>
<circle cx="419.3" cy="360.8" r="3.65"/>
<circle cx="424.8" cy="346.2" r="3.65"/>
<circle cx="429.9" cy="357.2" r="3.65"/>
<circle cx="435" cy="381.6" r="3.65"/>
<circle cx="440.3" cy="378.6" r="3.65"/>
<circle cx="445.6" cy="389.7" r="3.65"/>
<circle cx="450.6" cy="393" r="3.65"/>
<circle cx="456" cy="410.6" r="3.65"/>
<circle cx="461.1" cy="427" r="3.65"/>
<circle cx="466.3" cy="430.3" r="3.65"/>
<circle cx="471.5" cy="437.1" r="3.65"/>
<circle cx="476.7" cy="433.7" r="3.65"/>
<circle cx="481.9" cy="435.1" r="3.65"/>
<circle cx="487.2" cy="433" r="3.65"/>
<circle cx="492.3" cy="424.8" r="3.65"/>
<circle cx="497.5" cy="431" r="3.65"/>
<circle cx="502.8" cy="409.7" r="3.65"/>
<circle cx="507.9" cy="402" r="3.65"/>
<circle cx="513" cy="398.5" r="3.65"/>
<circle cx="518.5" cy="395.3" r="3.65"/>
<circle cx="523.3" cy="377.2" r="3.65"/>
<circle cx="528.6" cy="367.2" r="3.65"/>
<circle cx="534" cy="365.2" r="3.65"/>
<circle cx="539.1" cy="370.4" r="3.65"/>
<circle cx="544.4" cy="351.8" r="3.65"/>
<circle cx="549.4" cy="354.9" r="3.65"/>
<circle cx="554.7" cy="362.7" r="3.65"/>
<circle cx="560" cy="365.5" r="3.65"/>
<circle cx="565.2" cy="350.4" r="3.65"/>
<circle cx="570.4" cy="370" r="3.65"/>
<circle cx="575.5" cy="362.2" r="3.65"/>
<circle cx="581" cy="391.8" r="3.65"/>
<circle cx="586" cy="399.2" r="3.65"/>
<circle cx="591.4" cy="427.5" r="3.65"/>
<circle cx="596.5" cy="440.6" r="3.65"/>
<circle cx="601.7" cy="422.2" r="3.65"/>
<circle cx="606.8" cy="415.3" r="3.65"/>
<circle cx="612" cy="432.2" r="3.65"/>
<circle cx="617.2" cy="431.7" r="3.65"/>
<circle cx="622.5" cy="443.3" r="3.65"/>
<circle cx="627.7" cy="438.5" r="3.65"/>
<circle cx="633" cy="405.4" r="3.65"/>
<circle cx="637.9" cy="396.3" r="3.65"/>
<circle cx="642.9" cy="410.2" r="3.65"/>
<circle cx="648.2" cy="367.4" r="3.65"/>
</g>
<text x="377.8" y="332.5" font-family="'Liberation Serif', serif" font-size="12" fill="#1a1a1a" xml:space="preserve">Rice-shrimp  coculture</text>
<line x1="487.6" y1="328.3" x2="512.6" y2="328.3" stroke="#000" stroke-width="1.2" stroke-dasharray="3,1.6"/>
<line x1="560" y1="328.4" x2="585" y2="328.4" stroke="#000" stroke-width="1.2" stroke-dasharray="3,1.6"/>
<circle cx="500.2" cy="328.3" r="3.1" fill="#ffff00" stroke="#92d050" stroke-width="1.1"/>
<circle cx="572" cy="328.4" r="3.1" fill="#ff0000" stroke="#ffc000" stroke-width="1.1"/>
<text x="516" y="331.6" font-family="'Liberation Serif', serif" font-size="9.4" fill="#1a1a1a">N<tspan font-size="5.64" dy="1.5">2</tspan><tspan dy="-1.5">O flux</tspan></text>
<text x="587.4" y="331.7" font-family="'Liberation Serif', serif" font-size="9.4" fill="#1a1a1a">Air temperature</text>
<rect x="376" y="318.4" width="75.3" height="137.6" fill="#a8a8a8" fill-opacity="0.34"/>
<rect x="513.9" y="318.4" width="73.8" height="137.6" fill="#a8a8a8" fill-opacity="0.34"/>
<rect x="375.7" y="318.4" width="273.8" height="137.6" fill="none" stroke="#111" stroke-width="1.15"/>
<line x1="375.7" y1="456" x2="379.7" y2="456" stroke="#1a1a1a" stroke-width="1"/>
<text x="368.1" y="460.3" text-anchor="end" font-family="'Liberation Serif', serif" font-size="10.3" fill="#1a1a1a" style="fill:#505050;stroke:none">0</text>
<line x1="375.7" y1="428.48" x2="379.7" y2="428.48" stroke="#1a1a1a" stroke-width="1"/>
<text x="368.1" y="432.78" text-anchor="end" font-family="'Liberation Serif', serif" font-size="10.3" fill="#1a1a1a" style="fill:#505050;stroke:none">20</text>
<line x1="375.7" y1="400.96" x2="379.7" y2="400.96" stroke="#1a1a1a" stroke-width="1"/>
<text x="368.1" y="405.26" text-anchor="end" font-family="'Liberation Serif', serif" font-size="10.3" fill="#1a1a1a" style="fill:#505050;stroke:none">40</text>
<line x1="375.7" y1="373.44" x2="379.7" y2="373.44" stroke="#1a1a1a" stroke-width="1"/>
<text x="368.1" y="377.74" text-anchor="end" font-family="'Liberation Serif', serif" font-size="10.3" fill="#1a1a1a" style="fill:#505050;stroke:none">60</text>
<line x1="375.7" y1="345.92" x2="379.7" y2="345.92" stroke="#1a1a1a" stroke-width="1"/>
<text x="368.1" y="350.22" text-anchor="end" font-family="'Liberation Serif', serif" font-size="10.3" fill="#1a1a1a" style="fill:#505050;stroke:none">80</text>
<line x1="375.7" y1="318.4" x2="379.7" y2="318.4" stroke="#1a1a1a" stroke-width="1"/>
<text x="368.1" y="322.7" text-anchor="end" font-family="'Liberation Serif', serif" font-size="10.3" fill="#1a1a1a" style="fill:#505050;stroke:none">100</text>
<line x1="645.5" y1="456" x2="649.5" y2="456" stroke="#1a1a1a" stroke-width="1"/>
<text x="656.7" y="460.3" font-family="'Liberation Serif', serif" font-size="10.3" fill="#1a1a1a">0</text>
<line x1="645.5" y1="421.6" x2="649.5" y2="421.6" stroke="#1a1a1a" stroke-width="1"/>
<text x="656.7" y="425.9" font-family="'Liberation Serif', serif" font-size="10.3" fill="#1a1a1a">10</text>
<line x1="645.5" y1="387.2" x2="649.5" y2="387.2" stroke="#1a1a1a" stroke-width="1"/>
<text x="656.7" y="391.5" font-family="'Liberation Serif', serif" font-size="10.3" fill="#1a1a1a">20</text>
<line x1="645.5" y1="352.8" x2="649.5" y2="352.8" stroke="#1a1a1a" stroke-width="1"/>
<text x="656.7" y="357.1" font-family="'Liberation Serif', serif" font-size="10.3" fill="#1a1a1a">30</text>
<line x1="645.5" y1="318.4" x2="649.5" y2="318.4" stroke="#1a1a1a" stroke-width="1"/>
<text x="656.7" y="322.7" font-family="'Liberation Serif', serif" font-size="10.3" fill="#1a1a1a">40</text>
<line x1="375.7" y1="456" x2="375.7" y2="453.2" stroke="#1a1a1a" stroke-width="1"/>
<text x="375.7" y="469.6" text-anchor="middle" font-family="'Liberation Serif', serif" font-size="8.6" fill="#1a1a1a">2020/4/16</text>
<line x1="398.35" y1="456" x2="398.35" y2="453.2" stroke="#1a1a1a" stroke-width="1"/>
<line x1="421" y1="456" x2="421" y2="453.2" stroke="#1a1a1a" stroke-width="1"/>
<text x="421" y="469.6" text-anchor="middle" font-family="'Liberation Serif', serif" font-size="8.6" fill="#1a1a1a">2020/8/16</text>
<line x1="443.65" y1="456" x2="443.65" y2="453.2" stroke="#1a1a1a" stroke-width="1"/>
<line x1="466.3" y1="456" x2="466.3" y2="453.2" stroke="#1a1a1a" stroke-width="1"/>
<text x="466.3" y="469.6" text-anchor="middle" font-family="'Liberation Serif', serif" font-size="8.6" fill="#1a1a1a">2020/12/16</text>
<line x1="488.95" y1="456" x2="488.95" y2="453.2" stroke="#1a1a1a" stroke-width="1"/>
<line x1="511.6" y1="456" x2="511.6" y2="453.2" stroke="#1a1a1a" stroke-width="1"/>
<text x="511.6" y="469.6" text-anchor="middle" font-family="'Liberation Serif', serif" font-size="8.6" fill="#1a1a1a">2021/4/16</text>
<line x1="534.25" y1="456" x2="534.25" y2="453.2" stroke="#1a1a1a" stroke-width="1"/>
<line x1="556.9" y1="456" x2="556.9" y2="453.2" stroke="#1a1a1a" stroke-width="1"/>
<text x="556.9" y="469.6" text-anchor="middle" font-family="'Liberation Serif', serif" font-size="8.6" fill="#1a1a1a">2021/8/16</text>
<line x1="579.55" y1="456" x2="579.55" y2="453.2" stroke="#1a1a1a" stroke-width="1"/>
<line x1="602.2" y1="456" x2="602.2" y2="453.2" stroke="#1a1a1a" stroke-width="1"/>
<text x="602.2" y="469.6" text-anchor="middle" font-family="'Liberation Serif', serif" font-size="8.6" fill="#1a1a1a">2021/12/16</text>
<line x1="624.85" y1="456" x2="624.85" y2="453.2" stroke="#1a1a1a" stroke-width="1"/>
<line x1="647.5" y1="456" x2="647.5" y2="453.2" stroke="#1a1a1a" stroke-width="1"/>
<text x="647.5" y="469.6" text-anchor="middle" font-family="'Liberation Serif', serif" font-size="8.6" fill="#1a1a1a">2022/4/16</text>
<text transform="translate(351.2,380.4) rotate(-90)" text-anchor="middle" font-family="'Liberation Serif', serif" font-size="10.4" fill="#1a1a1a">N<tspan font-size="6.760000000000001" dy="2">2</tspan><tspan dy="-2">O flux (mg/m</tspan><tspan font-size="6.760000000000001" dy="-3.5">2</tspan><tspan dy="3.5">/h)</tspan></text>
<text transform="translate(677.1,383) rotate(-90)" text-anchor="middle" font-family="'Liberation Serif', serif" font-size="10.4" fill="#1a1a1a">Air temperatue (°C)</text>
</svg>
</body></html>
